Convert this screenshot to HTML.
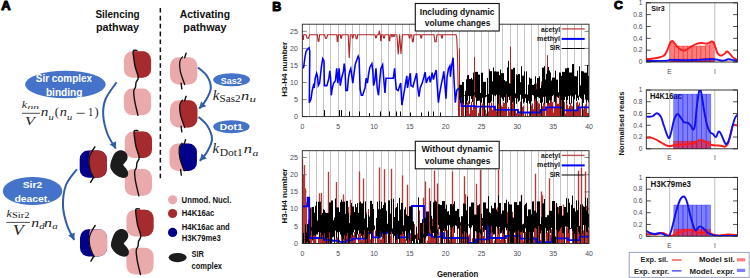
<!DOCTYPE html><html><head><meta charset="utf-8"><style>html,body{margin:0;padding:0;background:#fff;width:750px;height:278px;overflow:hidden}svg{display:block}</style></head><body><svg xmlns="http://www.w3.org/2000/svg" width="750" height="278" viewBox="0 0 750 278"><text x="1.3" y="10.0" font-size="12.2" fill="#000" text-anchor="start" font-weight="bold" font-family='"Liberation Sans", sans-serif' textLength="9.4" lengthAdjust="spacingAndGlyphs" stroke="#000" stroke-width="1" stroke-linejoin="round">A</text>
<text x="117.5" y="18.3" font-size="11.3" fill="#111" text-anchor="middle" font-weight="bold" font-family='"Liberation Sans", sans-serif' textLength="44.2" lengthAdjust="spacingAndGlyphs" >Silencing</text>
<text x="117.5" y="31.4" font-size="11.3" fill="#111" text-anchor="middle" font-weight="bold" font-family='"Liberation Sans", sans-serif' textLength="43.2" lengthAdjust="spacingAndGlyphs" >pathway</text>
<text x="204.9" y="18.3" font-size="11.3" fill="#111" text-anchor="middle" font-weight="bold" font-family='"Liberation Sans", sans-serif' textLength="50.3" lengthAdjust="spacingAndGlyphs" >Activating</text>
<text x="204.95" y="31.4" font-size="11.3" fill="#111" text-anchor="middle" font-weight="bold" font-family='"Liberation Sans", sans-serif' textLength="43.2" lengthAdjust="spacingAndGlyphs" >pathway</text>
<line x1="160.35" y1="7.9" x2="160.35" y2="178.2" stroke="#111" stroke-width="1.5" stroke-dasharray="4.6,3.3"/>
<clipPath id="nc1"><rect x="123.9" y="51.2" width="27.2" height="26.6" rx="8.5" ry="8.5"/></clipPath>
<rect x="123.9" y="51.2" width="27.2" height="26.6" rx="8.5" ry="8.5" fill="#eaaaac"/>
<path d="M133.20,50.70 C133.30,51.98 133.47,55.68 133.80,58.40 C134.13,61.12 134.45,63.68 135.20,67.00 C135.95,70.32 137.78,76.42 138.30,78.30 L138.3,80.80000000000001 L154.1,80.80000000000001 L154.1,48.2 L133.20000000000002,48.2 Z" fill="#a62b2e" clip-path="url(#nc1)"/>
<clipPath id="nc2"><rect x="123.9" y="88.6" width="27.2" height="26.6" rx="8.5" ry="8.5"/></clipPath>
<rect x="123.9" y="88.6" width="27.2" height="26.6" rx="8.5" ry="8.5" fill="#eaaaac"/>
<path d="M137.00,50.40 C136.38,50.48 133.83,49.57 133.30,50.90 C132.77,52.23 133.48,55.72 133.80,58.40 C134.12,61.08 134.45,63.85 135.20,67.00 C135.95,70.15 138.15,74.73 138.30,77.30 C138.45,79.87 136.57,80.75 136.10,82.40 C135.63,84.05 135.87,85.90 135.50,87.20 C135.13,88.50 134.17,88.87 133.90,90.20 C133.63,91.53 133.70,93.03 133.90,95.20 C134.10,97.37 134.42,99.83 135.10,103.20 C135.78,106.57 137.52,113.37 138.00,115.40" fill="none" stroke="#111" stroke-width="1.4" stroke-linecap="round"/>
<clipPath id="nc3"><rect x="124.8" y="131.4" width="27.2" height="26.6" rx="8.5" ry="8.5"/></clipPath>
<rect x="124.8" y="131.4" width="27.2" height="26.6" rx="8.5" ry="8.5" fill="#eaaaac"/>
<path d="M134.10,130.90 C134.20,132.18 134.37,135.88 134.70,138.60 C135.03,141.32 135.35,143.88 136.10,147.20 C136.85,150.52 138.68,156.62 139.20,158.50 L139.2,161.0 L155.0,161.0 L155.0,128.4 L134.1,128.4 Z" fill="#a62b2e" clip-path="url(#nc3)"/>
<clipPath id="nc4"><rect x="124.8" y="169.10000000000002" width="27.2" height="26.6" rx="8.5" ry="8.5"/></clipPath>
<rect x="124.8" y="169.10000000000002" width="27.2" height="26.6" rx="8.5" ry="8.5" fill="#eaaaac"/>
<path d="M137.90,130.60 C137.28,130.68 134.73,129.77 134.20,131.10 C133.67,132.43 134.38,135.92 134.70,138.60 C135.02,141.28 135.35,144.05 136.10,147.20 C136.85,150.35 139.05,154.91 139.20,157.50 C139.35,160.09 137.47,161.05 137.00,162.75 C136.53,164.45 136.77,166.38 136.40,167.70 C136.03,169.03 135.07,169.37 134.80,170.70 C134.53,172.03 134.60,173.53 134.80,175.70 C135.00,177.87 135.32,180.33 136.00,183.70 C136.68,187.07 138.42,193.87 138.90,195.90" fill="none" stroke="#111" stroke-width="1.4" stroke-linecap="round"/>
<clipPath id="nc5"><rect x="126.4" y="209.8" width="27.2" height="26.6" rx="8.5" ry="8.5"/></clipPath>
<rect x="126.4" y="209.8" width="27.2" height="26.6" rx="8.5" ry="8.5" fill="#eaaaac"/>
<path d="M135.70,209.30 C135.80,210.58 135.97,214.28 136.30,217.00 C136.63,219.72 136.95,222.28 137.70,225.60 C138.45,228.92 140.28,235.02 140.80,236.90 L140.8,239.4 L156.6,239.4 L156.6,206.8 L135.70000000000002,206.8 Z" fill="#a62b2e" clip-path="url(#nc5)"/>
<clipPath id="nc6"><rect x="126.4" y="247.8" width="27.2" height="26.6" rx="8.5" ry="8.5"/></clipPath>
<rect x="126.4" y="247.8" width="27.2" height="26.6" rx="8.5" ry="8.5" fill="#eaaaac"/>
<path d="M139.50,209.00 C138.88,209.08 136.33,208.17 135.80,209.50 C135.27,210.83 135.98,214.32 136.30,217.00 C136.62,219.68 136.95,222.45 137.70,225.60 C138.45,228.75 140.65,233.28 140.80,235.90 C140.95,238.52 139.07,239.55 138.60,241.30 C138.13,243.05 138.37,245.05 138.00,246.40 C137.63,247.75 136.67,248.07 136.40,249.40 C136.13,250.73 136.20,252.23 136.40,254.40 C136.60,256.57 136.92,259.03 137.60,262.40 C138.28,265.77 140.02,272.57 140.50,274.60" fill="none" stroke="#111" stroke-width="1.4" stroke-linecap="round"/>
<clipPath id="nc7"><rect x="79.7" y="150.6" width="27.1" height="27.2" rx="8.5" ry="8.5"/></clipPath>
<rect x="79.7" y="150.6" width="27.1" height="27.2" rx="8.5" ry="8.5" fill="#00008b"/>
<path d="M90.00,150.10 C89.78,151.35 88.88,155.02 88.70,157.60 C88.52,160.18 88.52,163.10 88.90,165.60 C89.28,168.10 90.12,170.47 91.00,172.60 C91.88,174.73 93.67,177.43 94.20,178.40 L94.2,180.79999999999998 L109.80000000000001,180.79999999999998 L109.80000000000001,147.6 L90.0,147.6 Z" fill="#a62b2e" clip-path="url(#nc7)"/>
<path d="M94.90,146.80 C94.43,147.53 92.57,150.47 92.10,151.20" fill="none" stroke="#111" stroke-width="1.4" stroke-linecap="round"/>
<path d="M92.30,150.80 C91.80,151.93 89.80,155.13 89.30,157.60 C88.80,160.07 88.98,163.10 89.30,165.60 C89.62,168.10 90.42,170.53 91.20,172.60 C91.98,174.67 93.53,177.10 94.00,178.00" fill="none" stroke="#111" stroke-width="1.2" stroke-linecap="round"/>
<path d="M93.50,177.40 C93.02,178.23 91.08,181.57 90.60,182.40" fill="none" stroke="#111" stroke-width="1.4" stroke-linecap="round"/>
<clipPath id="nc8"><rect x="80.0" y="229.3" width="27.1" height="27.2" rx="8.5" ry="8.5"/></clipPath>
<rect x="80.0" y="229.3" width="27.1" height="27.2" rx="8.5" ry="8.5" fill="#00008b"/>
<path d="M90.30,228.80 C90.08,230.05 89.18,233.72 89.00,236.30 C88.82,238.88 88.82,241.80 89.20,244.30 C89.58,246.80 90.42,249.17 91.30,251.30 C92.18,253.43 93.97,256.13 94.50,257.10 L94.5,259.5 L110.1,259.5 L110.1,226.3 L90.3,226.3 Z" fill="#eaaaac" clip-path="url(#nc8)"/>
<path d="M95.20,225.50 C94.73,226.23 92.87,229.17 92.40,229.90" fill="none" stroke="#111" stroke-width="1.4" stroke-linecap="round"/>
<path d="M92.60,229.50 C92.10,230.63 90.10,233.83 89.60,236.30 C89.10,238.77 89.28,241.80 89.60,244.30 C89.92,246.80 90.72,249.23 91.50,251.30 C92.28,253.37 93.83,255.80 94.30,256.70" fill="none" stroke="#111" stroke-width="1.2" stroke-linecap="round"/>
<path d="M93.80,256.10 C93.32,256.93 91.38,260.27 90.90,261.10" fill="none" stroke="#111" stroke-width="1.4" stroke-linecap="round"/>
<path transform="translate(109.9,150.6) scale(1.04)" d="M12.6,13.6 C14.5,11 17.2,9.5 17,5.8 C16.8,2 13.5,-0.6 9.5,-0.3 C6.5,0 4.5,2.5 3.2,5 C1.8,8 0.3,12 0.3,15 C0.3,18 3.5,22 7,24.3 C9.5,26 12.5,26.6 14.6,26.2 C17.2,25.6 18,23 17.4,20.5 C16.6,17.5 14,16 12.6,13.6 Z" fill="#1c1c1c"/>
<path transform="translate(110.6,229.3) scale(1.04)" d="M12.6,13.6 C14.5,11 17.2,9.5 17,5.8 C16.8,2 13.5,-0.6 9.5,-0.3 C6.5,0 4.5,2.5 3.2,5 C1.8,8 0.3,12 0.3,15 C0.3,18 3.5,22 7,24.3 C9.5,26 12.5,26.6 14.6,26.2 C17.2,25.6 18,23 17.4,20.5 C16.6,17.5 14,16 12.6,13.6 Z" fill="#1c1c1c"/>
<clipPath id="nc9"><rect x="170.0" y="57.2" width="27.4" height="27.3" rx="8.5" ry="8.5"/></clipPath>
<rect x="170.0" y="57.2" width="27.4" height="27.3" rx="8.5" ry="8.5" fill="#eaaaac"/>
<path d="M186.10,53.20 C185.85,53.95 184.85,56.95 184.60,57.70" fill="none" stroke="#111" stroke-width="1.4" stroke-linecap="round"/>
<path d="M182.50,56.90 C182.05,57.67 180.15,59.05 179.80,61.50 C179.45,63.95 179.58,67.77 180.40,71.60 C181.22,75.43 183.98,82.35 184.70,84.50" fill="none" stroke="#111" stroke-width="1.3" stroke-linecap="round"/>
<path d="M181.10,83.20 C181.22,84.13 181.68,87.87 181.80,88.80" fill="none" stroke="#111" stroke-width="1.4" stroke-linecap="round"/>
<clipPath id="nc10"><rect x="170.0" y="100.3" width="27.4" height="27.3" rx="8.5" ry="8.5"/></clipPath>
<rect x="170.0" y="100.3" width="27.4" height="27.3" rx="8.5" ry="8.5" fill="#eaaaac"/>
<path d="M182.50,100.10 C182.12,100.85 180.58,102.17 180.20,104.60 C179.82,107.03 179.45,110.83 180.20,114.70 C180.95,118.57 183.95,125.62 184.70,127.80 L184.7,130.6 L200.4,130.6 L200.4,97.3 L182.5,97.3 Z" fill="#a62b2e" clip-path="url(#nc10)"/>
<path d="M186.10,96.30 C185.85,97.05 184.85,100.05 184.60,100.80" fill="none" stroke="#111" stroke-width="1.4" stroke-linecap="round"/>
<path d="M182.50,100.00 C182.05,100.77 180.15,102.15 179.80,104.60 C179.45,107.05 179.58,110.87 180.40,114.70 C181.22,118.53 183.98,125.45 184.70,127.60" fill="none" stroke="#111" stroke-width="1.3" stroke-linecap="round"/>
<path d="M181.10,126.30 C181.22,127.23 181.68,130.97 181.80,131.90" fill="none" stroke="#111" stroke-width="1.4" stroke-linecap="round"/>
<clipPath id="nc11"><rect x="169.5" y="143.6" width="27.4" height="27.3" rx="8.5" ry="8.5"/></clipPath>
<rect x="169.5" y="143.6" width="27.4" height="27.3" rx="8.5" ry="8.5" fill="#eaaaac"/>
<path d="M182.00,143.40 C181.62,144.15 180.08,145.47 179.70,147.90 C179.32,150.33 178.95,154.13 179.70,158.00 C180.45,161.87 183.45,168.92 184.20,171.10 L184.2,173.9 L199.9,173.9 L199.9,140.6 L182.0,140.6 Z" fill="#00008b" clip-path="url(#nc11)"/>
<path d="M185.60,139.60 C185.35,140.35 184.35,143.35 184.10,144.10" fill="none" stroke="#111" stroke-width="1.4" stroke-linecap="round"/>
<path d="M182.00,143.30 C181.55,144.07 179.65,145.45 179.30,147.90 C178.95,150.35 179.08,154.17 179.90,158.00 C180.72,161.83 183.48,168.75 184.20,170.90" fill="none" stroke="#111" stroke-width="1.3" stroke-linecap="round"/>
<path d="M180.60,169.60 C180.72,170.53 181.18,174.27 181.30,175.20" fill="none" stroke="#111" stroke-width="1.4" stroke-linecap="round"/>
<ellipse cx="65.4" cy="84.55" rx="40.3" ry="13.8" fill="#4573c9"/>
<text x="63.9" y="82.3" font-size="10.6" fill="#fff" text-anchor="middle" font-weight="bold" font-family='"Liberation Sans", sans-serif' textLength="56.2" lengthAdjust="spacingAndGlyphs" >Sir complex</text>
<text x="64.2" y="96.2" font-size="10.6" fill="#fff" text-anchor="middle" font-weight="bold" font-family='"Liberation Sans", sans-serif' textLength="36.6" lengthAdjust="spacingAndGlyphs" >binding</text>
<ellipse cx="32.55" cy="191" rx="29.75" ry="14.1" fill="#4573c9"/>
<text x="32.4" y="188.4" font-size="9.8" fill="#fff" text-anchor="middle" font-weight="bold" font-family='"Liberation Sans", sans-serif' textLength="19.5" lengthAdjust="spacingAndGlyphs" >Sir2</text>
<text x="32.3" y="201.6" font-size="9.8" fill="#fff" text-anchor="middle" font-weight="bold" font-family='"Liberation Sans", sans-serif' textLength="35.8" lengthAdjust="spacingAndGlyphs" >deacet.</text>
<ellipse cx="231.6" cy="79.75" rx="18.4" ry="6.6" fill="#4573c9"/>
<text x="231.25" y="83.5" font-size="9.2" fill="#fff" text-anchor="middle" font-weight="bold" font-family='"Liberation Sans", sans-serif' textLength="21" lengthAdjust="spacingAndGlyphs" >Sas2</text>
<ellipse cx="231.4" cy="126.7" rx="18.2" ry="6.5" fill="#4573c9"/>
<text x="231.25" y="130.4" font-size="9.2" fill="#fff" text-anchor="middle" font-weight="bold" font-family='"Liberation Sans", sans-serif' textLength="23.1" lengthAdjust="spacingAndGlyphs" >Dot1</text>
<path d="M116.60,82.20 C114.77,85.00 107.83,93.53 105.60,99.00 C103.37,104.47 102.88,109.17 103.20,115.00 C103.52,120.83 105.40,128.40 107.50,134.00 C109.60,139.60 114.42,146.17 115.80,148.60" fill="none" stroke="#2f5ea8" stroke-width="2"/>
<path d="M115.80,148.60 L109.67,144.40 L116.11,141.18 Z" fill="#2f5ea8"/>
<path d="M76.90,169.20 C75.08,171.83 68.32,178.88 66.00,185.00 C63.68,191.12 62.83,199.23 63.00,205.90 C63.17,212.57 65.13,219.32 67.00,225.00 C68.87,230.68 73.00,237.50 74.20,240.00" fill="none" stroke="#2f5ea8" stroke-width="2"/>
<path d="M74.20,240.00 L68.25,235.55 L74.82,232.60 Z" fill="#2f5ea8"/>
<path d="M197.90,67.50 C199.42,68.92 204.85,72.58 207.00,76.00 C209.15,79.42 210.97,84.00 210.80,88.00 C210.63,92.00 207.93,96.57 206.00,100.00 C204.07,103.43 200.33,107.17 199.20,108.60" fill="none" stroke="#2f5ea8" stroke-width="2"/>
<path d="M199.20,108.60 L201.02,101.40 L206.27,106.32 Z" fill="#2f5ea8"/>
<path d="M198.50,116.90 C200.00,118.42 205.25,122.28 207.50,126.00 C209.75,129.72 212.08,134.87 212.00,139.20 C211.92,143.53 209.03,148.40 207.00,152.00 C204.97,155.60 201.00,159.33 199.80,160.80" fill="none" stroke="#2f5ea8" stroke-width="2"/>
<path d="M199.80,160.80 L201.62,153.60 L206.87,158.52 Z" fill="#2f5ea8"/>
<text x="21.8" y="107.6" font-size="11.3" fill="#222" text-anchor="start" font-style="italic" font-family='"Liberation Serif", serif' textLength="5.3" lengthAdjust="spacingAndGlyphs" >k</text>
<text x="27.4" y="108.8" font-size="6.6" fill="#222" text-anchor="start" font-style="italic" font-family='"Liberation Serif", serif' textLength="11.6" lengthAdjust="spacingAndGlyphs" >nn</text>
<line x1="22" y1="113.3" x2="39.9" y2="113.3" stroke="#222" stroke-width="0.8"/>
<text x="25.1" y="124.6" font-size="13.3" fill="#222" text-anchor="start" font-style="italic" font-family='"Liberation Serif", serif' textLength="9.8" lengthAdjust="spacingAndGlyphs" >V</text>
<text x="40.8" y="116.1" font-size="11.5" fill="#222" text-anchor="start" font-style="italic" font-family='"Liberation Serif", serif' textLength="7.6" lengthAdjust="spacingAndGlyphs" >n</text>
<text x="48.6" y="119.8" font-size="7.5" fill="#222" text-anchor="start" font-style="italic" font-family='"Liberation Serif", serif' textLength="5.2" lengthAdjust="spacingAndGlyphs" >u</text>
<text x="54.7" y="115.8" font-size="12.2" fill="#222" text-anchor="start" font-family='"Liberation Serif", serif' textLength="4.2" lengthAdjust="spacingAndGlyphs" >(</text>
<text x="59.8" y="116.1" font-size="11.5" fill="#222" text-anchor="start" font-style="italic" font-family='"Liberation Serif", serif' textLength="7.2" lengthAdjust="spacingAndGlyphs" >n</text>
<text x="67.0" y="119.8" font-size="7.5" fill="#222" text-anchor="start" font-style="italic" font-family='"Liberation Serif", serif' textLength="5.2" lengthAdjust="spacingAndGlyphs" >u</text>
<line x1="76.7" y1="113.3" x2="84.7" y2="113.3" stroke="#222" stroke-width="0.8"/>
<text x="88" y="116.1" font-size="11.5" fill="#222" text-anchor="start" font-family='"Liberation Serif", serif' textLength="5.3" lengthAdjust="spacingAndGlyphs" >1</text>
<text x="94.4" y="115.8" font-size="12.2" fill="#222" text-anchor="start" font-family='"Liberation Serif", serif' textLength="4.2" lengthAdjust="spacingAndGlyphs" >)</text>
<text x="6.4" y="217.0" font-size="11.3" fill="#222" text-anchor="start" font-style="italic" font-family='"Liberation Serif", serif' textLength="5.4" lengthAdjust="spacingAndGlyphs" >k</text>
<text x="11.9" y="217.8" font-size="7.2" fill="#222" text-anchor="start" font-family='"Liberation Serif", serif' textLength="17.6" lengthAdjust="spacingAndGlyphs" >Sir2</text>
<line x1="6.3" y1="222.4" x2="29.9" y2="222.4" stroke="#222" stroke-width="0.8"/>
<text x="12.8" y="234.7" font-size="14.2" fill="#222" text-anchor="start" font-style="italic" font-family='"Liberation Serif", serif' textLength="11" lengthAdjust="spacingAndGlyphs" >V</text>
<text x="31.2" y="226.7" font-size="12.6" fill="#222" text-anchor="start" font-style="italic" font-family='"Liberation Serif", serif' textLength="7.9" lengthAdjust="spacingAndGlyphs" >n</text>
<text x="39.2" y="229.2" font-size="7.5" fill="#222" text-anchor="start" font-style="italic" font-family='"Liberation Serif", serif' textLength="5.3" lengthAdjust="spacingAndGlyphs" >d</text>
<text x="44.1" y="226.7" font-size="12.6" fill="#222" text-anchor="start" font-style="italic" font-family='"Liberation Serif", serif' textLength="8" lengthAdjust="spacingAndGlyphs" >n</text>
<text x="52.2" y="229.0" font-size="7.5" fill="#222" text-anchor="start" font-style="italic" font-family='"Liberation Serif", serif' textLength="5.4" lengthAdjust="spacingAndGlyphs" >a</text>
<text x="212.8" y="99.5" font-size="14.5" fill="#222" text-anchor="start" font-style="italic" font-family='"Liberation Serif", serif' textLength="6.6" lengthAdjust="spacingAndGlyphs" >k</text>
<text x="219.6" y="102.2" font-size="10.5" fill="#222" text-anchor="start" font-family='"Liberation Serif", serif' textLength="21" lengthAdjust="spacingAndGlyphs" >Sas2</text>
<text x="241.1" y="99.5" font-size="13" fill="#222" text-anchor="start" font-style="italic" font-family='"Liberation Serif", serif' textLength="8.2" lengthAdjust="spacingAndGlyphs" >n</text>
<text x="249.5" y="102.2" font-size="9" fill="#222" text-anchor="start" font-style="italic" font-family='"Liberation Serif", serif' textLength="6.5" lengthAdjust="spacingAndGlyphs" >u</text>
<text x="212.6" y="153" font-size="14.5" fill="#222" text-anchor="start" font-style="italic" font-family='"Liberation Serif", serif' textLength="6.6" lengthAdjust="spacingAndGlyphs" >k</text>
<text x="219.8" y="155.8" font-size="10.5" fill="#222" text-anchor="start" font-family='"Liberation Serif", serif' textLength="23" lengthAdjust="spacingAndGlyphs" >Dot1</text>
<text x="243.8" y="153" font-size="13" fill="#222" text-anchor="start" font-style="italic" font-family='"Liberation Serif", serif' textLength="8.3" lengthAdjust="spacingAndGlyphs" >n</text>
<text x="252.6" y="155.6" font-size="9" fill="#222" text-anchor="start" font-style="italic" font-family='"Liberation Serif", serif' textLength="5.8" lengthAdjust="spacingAndGlyphs" >a</text>
<circle cx="172.6" cy="199.8" r="4.6" fill="#eaaaac"/>
<circle cx="172.6" cy="213.5" r="4.6" fill="#a62b2e"/>
<circle cx="172.6" cy="232.4" r="4.6" fill="#00008b"/>
<ellipse cx="177.6" cy="257.6" rx="9" ry="4.6" fill="#1c1c1c"/>
<text x="181.6" y="203.0" font-size="8.3" fill="#111" text-anchor="start" font-weight="bold" font-family='"Liberation Sans", sans-serif' textLength="49.8" lengthAdjust="spacingAndGlyphs" >Unmod. Nucl.</text>
<text x="181.8" y="216.4" font-size="8.3" fill="#111" text-anchor="start" font-weight="bold" font-family='"Liberation Sans", sans-serif' textLength="32.5" lengthAdjust="spacingAndGlyphs" >H4K16ac</text>
<text x="181.8" y="230.4" font-size="8.3" fill="#111" text-anchor="start" font-weight="bold" font-family='"Liberation Sans", sans-serif' textLength="48" lengthAdjust="spacingAndGlyphs" >H4K16ac and</text>
<text x="181.8" y="240.9" font-size="8.3" fill="#111" text-anchor="start" font-weight="bold" font-family='"Liberation Sans", sans-serif' textLength="39" lengthAdjust="spacingAndGlyphs" >H3K79me3</text>
<text x="191.5" y="257.2" font-size="8.3" fill="#111" text-anchor="start" font-weight="bold" font-family='"Liberation Sans", sans-serif' textLength="12.5" lengthAdjust="spacingAndGlyphs" >SIR</text>
<text x="191.5" y="268.7" font-size="8.3" fill="#111" text-anchor="start" font-weight="bold" font-family='"Liberation Sans", sans-serif' textLength="30.5" lengthAdjust="spacingAndGlyphs" >complex</text>
<text x="272.3" y="11.1" font-size="12" fill="#000" text-anchor="start" font-weight="bold" font-family='"Liberation Sans", sans-serif' textLength="9.0" lengthAdjust="spacingAndGlyphs" stroke="#000" stroke-width="1" stroke-linejoin="round">B</text>
<clipPath id="bclip0"><rect x="302.3" y="24.2" width="286.7" height="92.39999999999999"/></clipPath>
<line x1="309.50" y1="24.2" x2="309.50" y2="116.6" stroke="#c4c4c4" stroke-width="1"/>
<line x1="316.50" y1="24.2" x2="316.50" y2="116.6" stroke="#c4c4c4" stroke-width="1"/>
<line x1="323.50" y1="24.2" x2="323.50" y2="116.6" stroke="#c4c4c4" stroke-width="1"/>
<line x1="330.50" y1="24.2" x2="330.50" y2="116.6" stroke="#c4c4c4" stroke-width="1"/>
<line x1="338.50" y1="24.2" x2="338.50" y2="116.6" stroke="#c4c4c4" stroke-width="1"/>
<line x1="345.50" y1="24.2" x2="345.50" y2="116.6" stroke="#c4c4c4" stroke-width="1"/>
<line x1="352.50" y1="24.2" x2="352.50" y2="116.6" stroke="#c4c4c4" stroke-width="1"/>
<line x1="359.50" y1="24.2" x2="359.50" y2="116.6" stroke="#c4c4c4" stroke-width="1"/>
<line x1="366.50" y1="24.2" x2="366.50" y2="116.6" stroke="#c4c4c4" stroke-width="1"/>
<line x1="373.50" y1="24.2" x2="373.50" y2="116.6" stroke="#c4c4c4" stroke-width="1"/>
<line x1="381.50" y1="24.2" x2="381.50" y2="116.6" stroke="#c4c4c4" stroke-width="1"/>
<line x1="388.50" y1="24.2" x2="388.50" y2="116.6" stroke="#c4c4c4" stroke-width="1"/>
<line x1="395.50" y1="24.2" x2="395.50" y2="116.6" stroke="#c4c4c4" stroke-width="1"/>
<line x1="402.50" y1="24.2" x2="402.50" y2="116.6" stroke="#c4c4c4" stroke-width="1"/>
<line x1="409.50" y1="24.2" x2="409.50" y2="116.6" stroke="#c4c4c4" stroke-width="1"/>
<line x1="416.50" y1="24.2" x2="416.50" y2="116.6" stroke="#c4c4c4" stroke-width="1"/>
<line x1="424.50" y1="24.2" x2="424.50" y2="116.6" stroke="#c4c4c4" stroke-width="1"/>
<line x1="431.50" y1="24.2" x2="431.50" y2="116.6" stroke="#c4c4c4" stroke-width="1"/>
<line x1="438.50" y1="24.2" x2="438.50" y2="116.6" stroke="#c4c4c4" stroke-width="1"/>
<line x1="445.50" y1="24.2" x2="445.50" y2="116.6" stroke="#c4c4c4" stroke-width="1"/>
<line x1="452.50" y1="24.2" x2="452.50" y2="116.6" stroke="#c4c4c4" stroke-width="1"/>
<line x1="459.50" y1="24.2" x2="459.50" y2="116.6" stroke="#c4c4c4" stroke-width="1"/>
<line x1="467.50" y1="24.2" x2="467.50" y2="116.6" stroke="#c4c4c4" stroke-width="1"/>
<line x1="474.50" y1="24.2" x2="474.50" y2="116.6" stroke="#c4c4c4" stroke-width="1"/>
<line x1="481.50" y1="24.2" x2="481.50" y2="116.6" stroke="#c4c4c4" stroke-width="1"/>
<line x1="488.50" y1="24.2" x2="488.50" y2="116.6" stroke="#c4c4c4" stroke-width="1"/>
<line x1="495.50" y1="24.2" x2="495.50" y2="116.6" stroke="#c4c4c4" stroke-width="1"/>
<line x1="502.50" y1="24.2" x2="502.50" y2="116.6" stroke="#c4c4c4" stroke-width="1"/>
<line x1="510.50" y1="24.2" x2="510.50" y2="116.6" stroke="#c4c4c4" stroke-width="1"/>
<line x1="517.50" y1="24.2" x2="517.50" y2="116.6" stroke="#c4c4c4" stroke-width="1"/>
<line x1="524.50" y1="24.2" x2="524.50" y2="116.6" stroke="#c4c4c4" stroke-width="1"/>
<line x1="531.50" y1="24.2" x2="531.50" y2="116.6" stroke="#c4c4c4" stroke-width="1"/>
<line x1="538.50" y1="24.2" x2="538.50" y2="116.6" stroke="#c4c4c4" stroke-width="1"/>
<line x1="545.50" y1="24.2" x2="545.50" y2="116.6" stroke="#c4c4c4" stroke-width="1"/>
<line x1="553.50" y1="24.2" x2="553.50" y2="116.6" stroke="#c4c4c4" stroke-width="1"/>
<line x1="560.50" y1="24.2" x2="560.50" y2="116.6" stroke="#c4c4c4" stroke-width="1"/>
<line x1="567.50" y1="24.2" x2="567.50" y2="116.6" stroke="#c4c4c4" stroke-width="1"/>
<line x1="574.50" y1="24.2" x2="574.50" y2="116.6" stroke="#c4c4c4" stroke-width="1"/>
<line x1="581.50" y1="24.2" x2="581.50" y2="116.6" stroke="#c4c4c4" stroke-width="1"/>
<line x1="302.3" y1="116.60" x2="306.8" y2="116.60" stroke="#555" stroke-width="0.7"/>
<line x1="584.5" y1="116.60" x2="589.0" y2="116.60" stroke="#555" stroke-width="0.7"/>
<text x="298" y="118.8" font-size="7.1" fill="#4a4a55" text-anchor="end" font-family='"Liberation Sans", sans-serif' >0</text>
<line x1="302.3" y1="99.55" x2="306.8" y2="99.55" stroke="#555" stroke-width="0.7"/>
<line x1="584.5" y1="99.55" x2="589.0" y2="99.55" stroke="#555" stroke-width="0.7"/>
<text x="298" y="101.75" font-size="7.1" fill="#4a4a55" text-anchor="end" font-family='"Liberation Sans", sans-serif' >5</text>
<line x1="302.3" y1="82.50" x2="306.8" y2="82.50" stroke="#555" stroke-width="0.7"/>
<line x1="584.5" y1="82.50" x2="589.0" y2="82.50" stroke="#555" stroke-width="0.7"/>
<text x="298" y="84.7" font-size="7.1" fill="#4a4a55" text-anchor="end" font-family='"Liberation Sans", sans-serif' >10</text>
<line x1="302.3" y1="65.45" x2="306.8" y2="65.45" stroke="#555" stroke-width="0.7"/>
<line x1="584.5" y1="65.45" x2="589.0" y2="65.45" stroke="#555" stroke-width="0.7"/>
<text x="298" y="67.64999999999999" font-size="7.1" fill="#4a4a55" text-anchor="end" font-family='"Liberation Sans", sans-serif' >15</text>
<line x1="302.3" y1="48.40" x2="306.8" y2="48.40" stroke="#555" stroke-width="0.7"/>
<line x1="584.5" y1="48.40" x2="589.0" y2="48.40" stroke="#555" stroke-width="0.7"/>
<text x="298" y="50.599999999999994" font-size="7.1" fill="#4a4a55" text-anchor="end" font-family='"Liberation Sans", sans-serif' >20</text>
<line x1="302.3" y1="31.35" x2="306.8" y2="31.35" stroke="#555" stroke-width="0.7"/>
<line x1="584.5" y1="31.35" x2="589.0" y2="31.35" stroke="#555" stroke-width="0.7"/>
<text x="298" y="33.55" font-size="7.1" fill="#4a4a55" text-anchor="end" font-family='"Liberation Sans", sans-serif' >25</text>
<text x="302.3" y="129.2" font-size="6.9" fill="#4a4a55" text-anchor="middle" font-family='"Liberation Sans", sans-serif' >0</text>
<text x="338.1375" y="129.2" font-size="6.9" fill="#4a4a55" text-anchor="middle" font-family='"Liberation Sans", sans-serif' >5</text>
<text x="373.975" y="129.2" font-size="6.9" fill="#4a4a55" text-anchor="middle" font-family='"Liberation Sans", sans-serif' >10</text>
<text x="409.8125" y="129.2" font-size="6.9" fill="#4a4a55" text-anchor="middle" font-family='"Liberation Sans", sans-serif' >15</text>
<text x="445.65" y="129.2" font-size="6.9" fill="#4a4a55" text-anchor="middle" font-family='"Liberation Sans", sans-serif' >20</text>
<text x="481.4875" y="129.2" font-size="6.9" fill="#4a4a55" text-anchor="middle" font-family='"Liberation Sans", sans-serif' >25</text>
<text x="517.325" y="129.2" font-size="6.9" fill="#4a4a55" text-anchor="middle" font-family='"Liberation Sans", sans-serif' >30</text>
<text x="553.1625" y="129.2" font-size="6.9" fill="#4a4a55" text-anchor="middle" font-family='"Liberation Sans", sans-serif' >35</text>
<text x="589.0" y="129.2" font-size="6.9" fill="#4a4a55" text-anchor="middle" font-family='"Liberation Sans", sans-serif' >40</text>
<g clip-path="url(#bclip0)">
<polyline points="302.30,38.50 302.35,34.80 302.79,39.40 303.37,39.40 303.80,34.80 306.00,34.80 307.05,38.20 308.45,38.20 309.50,34.80 317.40,34.80 318.06,41.10 318.94,41.10 319.60,34.80 324.60,34.80 325.47,38.20 326.63,38.20 327.50,34.80 336.80,34.80 337.25,41.50 337.85,41.50 338.30,34.80 340.40,34.80 340.85,38.20 341.45,38.20 341.90,34.80 348.20,34.80 349.25,58.10 350.30,34.80 352.00,34.80 352.42,38.00 352.98,38.00 353.40,34.80 355.60,34.80 356.23,38.70 357.07,38.70 357.70,34.80 375.00,34.80 375.60,37.70 376.40,37.70 377.00,34.80 378.60,34.80 379.30,30.80 380.00,34.80 380.30,34.80 380.69,40.80 381.21,40.80 381.60,34.80 383.00,34.80 383.60,38.00 384.40,38.00 385.00,34.80 388.70,34.80 389.15,40.80 389.75,40.80 390.20,34.80 391.50,34.80 391.80,36.80 392.20,36.80 392.50,34.80 393.50,34.80 393.80,36.50 394.20,36.50 394.50,34.80 396.90,34.80 398.25,54.50 399.60,34.80 399.65,34.80 401.02,54.00 402.40,34.80 408.80,34.80 409.25,38.00 409.85,38.00 410.30,34.80 411.70,34.80 412.36,41.60 413.24,41.60 413.90,34.80 420.40,34.80 420.88,38.00 421.52,38.00 422.00,34.80 434.00,34.80 434.90,41.60 436.10,41.60 437.00,34.80 441.20,34.80 441.65,38.00 442.25,38.00 442.70,34.80 456.00,34.80 456.80,38.00 457.50,55.00 458.20,90.00 458.60,116.50" fill="none" stroke="#b22222" stroke-width="1.1" stroke-linejoin="miter" />
<path d="M459.5,116.60V103.46M461.5,116.60V103.09M461.5,116.60V102.11M462.5,116.60V113.81M462.5,116.60V87.33M463.5,116.60V107.23M463.5,116.60V89.52M465.5,116.60V110.38M465.5,116.60V95.02M466.5,116.60V105.03M467.5,116.60V102.67M468.5,116.60V101.05M469.5,116.60V113.67M470.5,116.60V105.74M471.5,116.60V107.62M471.5,116.60V101.83M472.5,116.60V110.07M473.5,116.60V101.98M474.5,116.60V109.58M475.5,116.60V105.63M476.5,116.60V102.21M478.5,116.60V112.83M479.5,116.60V108.16M480.5,116.60V103.77M482.5,116.60V103.43M483.5,116.60V101.43M485.5,116.60V109.72M486.5,116.60V113.55M487.5,116.60V105.71M488.5,116.60V111.55M489.5,116.60V110.97M490.5,116.60V106.74M491.5,116.60V102.65M492.5,116.60V109.72M493.5,116.60V102.63M494.5,116.60V108.17M495.5,116.60V107.21M496.5,116.60V111.27M497.5,116.60V108.68M498.5,116.60V101.47M499.5,116.60V112.46M500.5,116.60V110.70M501.5,116.60V105.67M502.5,116.60V106.84M503.5,116.60V102.33M504.5,116.60V103.09M505.5,116.60V103.23M506.5,116.60V107.63M506.5,116.60V84.77M508.5,116.60V107.19M509.5,116.60V111.34M510.5,116.60V106.10M511.5,116.60V101.77M511.5,116.60V95.09M512.5,116.60V103.54M513.5,116.60V111.51M513.5,116.60V90.67M514.5,116.60V112.38M514.5,116.60V97.30M515.5,116.60V109.46M516.5,116.60V113.29M517.5,116.60V110.19M518.5,116.60V113.69M519.5,116.60V113.22M520.5,116.60V101.73M521.5,116.60V111.23M521.5,116.60V90.35M522.5,116.60V106.99M523.5,116.60V105.77M525.5,116.60V113.38M527.5,116.60V103.91M529.5,116.60V112.80M531.5,116.60V105.36M532.5,116.60V103.47M533.5,116.60V109.14M534.5,116.60V111.57M534.5,116.60V92.11M535.5,116.60V103.45M535.5,116.60V89.91M536.5,116.60V105.40M536.5,116.60V83.48M537.5,116.60V101.33M538.5,116.60V103.17M539.5,116.60V103.48M540.5,116.60V110.09M542.5,116.60V106.16M543.5,116.60V103.28M544.5,116.60V111.05M544.5,116.60V83.91M546.5,116.60V110.51M547.5,116.60V103.23M548.5,116.60V101.49M549.5,116.60V103.16M550.5,116.60V100.95M551.5,116.60V105.40M551.5,116.60V93.96M552.5,116.60V102.19M553.5,116.60V112.75M554.5,116.60V108.08M555.5,116.60V106.19M555.5,116.60V97.55M556.5,116.60V111.21M556.5,116.60V86.46M557.5,116.60V103.65M558.5,116.60V103.65M559.5,116.60V107.39M559.5,116.60V85.93M560.5,116.60V112.11M561.5,116.60V81.38M563.5,116.60V104.05M564.5,116.60V101.82M565.5,116.60V113.44M566.5,116.60V84.25M567.5,116.60V104.94M568.5,116.60V108.25M569.5,116.60V105.89M570.5,116.60V102.93M571.5,116.60V105.36M572.5,116.60V106.53M573.5,116.60V97.14M574.5,116.60V110.88M575.5,116.60V110.04M576.5,116.60V102.47M577.5,116.60V101.41M578.5,116.60V104.66M579.5,116.60V102.41M580.5,116.60V107.03M582.5,116.60V102.24M583.5,116.60V109.21M584.5,116.60V106.18M585.5,116.60V104.52M586.5,116.60V92.26M587.5,116.60V112.93M588.5,116.60V113.32" stroke="#b22222" stroke-width="1" fill="none"/>
<path d="M473.5,116.60V87.88M493.5,116.60V79.78M499.5,116.60V88.15M541.5,116.60V81.38M459.5,116.60V48.40M474.5,116.60V56.92M510.5,116.60V46.69M547.5,116.60V55.22M489.5,116.60V68.86" stroke="#b22222" stroke-width="1" fill="none"/>
<polyline points="302.40,68.40 303.70,67.20 304.90,57.40 306.10,51.30 307.30,49.40 309.00,47.70 309.80,51.30 309.30,102.70 311.00,99.00 312.20,90.50 313.40,85.60 314.20,88.00 315.20,78.20 316.60,73.30 317.60,77.00 318.30,85.60 319.60,83.10 321.50,66.00 322.70,58.70 324.00,61.10 324.40,85.60 326.90,85.60 328.90,78.20 329.80,70.90 330.60,78.20 331.30,95.30 332.30,88.00 333.70,83.10 335.50,80.70 336.70,68.40 337.90,83.10 339.10,68.40 340.30,85.60 341.60,78.20 343.50,70.90 344.20,63.60 345.00,69.70 345.90,90.50 347.40,90.50 348.40,78.20 349.80,70.90 350.80,68.40 351.80,75.80 352.80,83.10 354.00,73.30 355.20,64.80 356.40,61.10 358.20,56.20 359.10,58.70 360.10,89.20 361.30,95.30 362.60,95.30 365.00,88.00 366.20,78.20 367.40,83.10 368.70,73.30 369.90,67.20 371.90,63.60 372.80,70.90 373.60,85.60 374.80,80.70 376.00,68.40 377.20,88.00 378.50,95.30 379.70,80.70 380.90,68.40 382.60,64.80 384.10,83.10 385.00,92.90 386.00,78.20 393.30,78.20 394.60,68.40 395.30,78.20 396.30,89.20 398.20,90.50 399.40,86.80 400.70,83.10 401.90,105.10 403.60,95.30 405.60,83.10 406.80,75.80 407.50,88.00 409.20,78.20 410.40,73.30 410.90,85.60 412.90,86.80 414.90,79.50 416.60,73.30 417.80,88.00 419.00,96.60 420.20,88.00 422.20,83.10 423.90,77.00 425.10,72.10 426.30,83.10 428.00,78.20 429.40,76.80 430.20,82.30 431.30,78.20 432.10,72.70 433.50,79.50 434.80,74.00 436.20,70.00 437.00,82.30 438.40,102.70 439.70,93.20 441.70,82.30 443.00,76.80 443.80,71.30 444.90,85.00 446.00,98.60 447.10,76.80 448.50,68.60 449.90,65.90 450.40,76.80 451.20,68.60 452.60,60.40 453.10,57.70 454.00,79.50 455.30,102.70 456.70,90.40 458.00,89.00 460.80,89.00" fill="none" stroke="#0000ff" stroke-width="1.55" stroke-linejoin="miter" />
<line x1="324.5" y1="116.6" x2="324.5" y2="110.12" stroke="#000" stroke-width="1"/>
<line x1="339.5" y1="116.6" x2="339.5" y2="110.12" stroke="#000" stroke-width="1"/>
<line x1="341.5" y1="116.6" x2="341.5" y2="110.12" stroke="#000" stroke-width="1"/>
<line x1="349.5" y1="116.6" x2="349.5" y2="111.48" stroke="#000" stroke-width="1"/>
<line x1="359.5" y1="116.6" x2="359.5" y2="111.48" stroke="#000" stroke-width="1"/>
<line x1="369.5" y1="116.6" x2="369.5" y2="113.19" stroke="#000" stroke-width="1"/>
<line x1="380.5" y1="116.6" x2="380.5" y2="111.48" stroke="#000" stroke-width="1"/>
<line x1="389.5" y1="116.6" x2="389.5" y2="111.48" stroke="#000" stroke-width="1"/>
<line x1="396.5" y1="116.6" x2="396.5" y2="111.48" stroke="#000" stroke-width="1"/>
<line x1="400.5" y1="116.6" x2="400.5" y2="111.48" stroke="#000" stroke-width="1"/>
<line x1="410.5" y1="116.6" x2="410.5" y2="112.51" stroke="#000" stroke-width="1"/>
<line x1="421.5" y1="116.6" x2="421.5" y2="112.51" stroke="#000" stroke-width="1"/>
<line x1="428.5" y1="116.6" x2="428.5" y2="111.48" stroke="#000" stroke-width="1"/>
<line x1="433.5" y1="116.6" x2="433.5" y2="111.48" stroke="#000" stroke-width="1"/>
<line x1="440.5" y1="116.6" x2="440.5" y2="112.51" stroke="#000" stroke-width="1"/>
<polyline points="458.00,88.64 461.50,88.64 461.50,88.64 461.50,106.03 474.50,106.03 474.50,106.03 474.50,106.71 495.00,106.71 495.00,106.71 495.00,109.78 518.00,109.78 518.00,109.78 518.00,112.51 540.50,112.51 540.50,112.51 540.50,109.78 546.00,109.78 546.00,109.78 546.00,107.39 563.00,107.39 563.00,107.39 563.00,110.46 578.00,110.46 578.00,110.46 578.00,107.39 590.00,107.39" fill="none" stroke="#0000ff" stroke-width="1.8" stroke-linejoin="miter" />
<path d="M459.5,100.04V84.71M460.5,103.21V84.71M461.5,97.11V84.71M462.5,102.67V82.10M463.5,103.81V82.10M464.5,96.00V95.35M465.5,116.60V90.82M466.5,104.55V79.29M467.5,100.63V75.26M468.5,95.92V75.04M469.5,103.91V79.03M470.5,96.15V79.03M471.5,99.00V77.81M472.5,102.04V79.55M473.5,95.94V72.70M474.5,94.71V92.81M475.5,97.49V71.85M476.5,103.90V71.85M477.5,101.07V71.85M478.5,100.75V74.62M479.5,100.69V74.62M480.5,116.60V92.90M481.5,102.59V72.74M482.5,97.85V72.74M483.5,103.29V81.82M484.5,116.60V81.82M485.5,97.34V81.82M486.5,96.57V95.04M487.5,116.60V77.86M488.5,102.84V94.00M489.5,103.04V71.16M490.5,102.65V71.16M491.5,101.33V71.16M492.5,94.67V81.33M493.5,101.85V67.51M494.5,95.45V71.35M495.5,96.16V71.30M496.5,94.76V71.62M497.5,116.60V71.62M498.5,103.99V71.62M499.5,95.09V75.13M500.5,116.60V69.55M501.5,97.49V73.20M502.5,99.20V73.20M503.5,101.11V73.20M504.5,97.23V80.07M505.5,103.68V81.29M506.5,94.45V81.29M507.5,102.58V67.47M508.5,96.84V60.86M509.5,100.02V83.29M510.5,95.86V83.25M511.5,116.60V69.25M512.5,102.81V69.25M513.5,101.61V67.78M514.5,116.60V67.78M515.5,98.04V93.34M516.5,103.89V74.29M517.5,98.56V75.16M518.5,101.76V74.12M519.5,100.68V74.12M520.5,94.71V82.22M521.5,116.60V66.17M522.5,98.71V75.67M523.5,103.50V75.67M524.5,101.81V71.38M525.5,98.24V94.05M526.5,103.02V71.38M527.5,103.90V94.57M528.5,100.89V84.69M529.5,103.67V77.45M530.5,116.60V78.53M531.5,101.31V78.53M532.5,95.05V84.97M533.5,95.51V84.97M534.5,100.67V83.81M535.5,98.86V76.29M536.5,116.60V89.19M537.5,96.84V78.06M538.5,97.42V78.06M539.5,98.12V76.39M540.5,102.95V88.09M541.5,116.60V85.21M542.5,102.44V67.63M543.5,96.92V67.63M544.5,103.72V66.08M545.5,96.61V79.68M546.5,103.06V73.84M547.5,103.12V70.52M548.5,103.67V67.06M549.5,100.40V70.52M550.5,101.43V72.50M551.5,99.94V80.50M552.5,95.91V77.61M553.5,94.90V77.61M554.5,101.86V77.61M555.5,102.82V70.79M556.5,96.24V79.62M557.5,97.23V79.62M558.5,98.01V92.21M559.5,95.43V72.42M560.5,116.60V72.67M561.5,99.93V75.90M562.5,116.60V71.88M563.5,116.60V71.88M564.5,100.02V71.88M565.5,96.86V68.41M566.5,103.32V68.41M567.5,99.86V67.85M568.5,96.09V67.85M569.5,104.42V72.49M570.5,95.64V72.49M571.5,103.59V72.49M572.5,96.43V64.10M573.5,116.60V64.10M574.5,99.24V76.06M575.5,94.67V76.25M576.5,101.04V76.25M577.5,98.01V70.60M578.5,100.11V95.57M579.5,96.58V66.23M580.5,98.12V85.36M581.5,98.85V71.18M582.5,116.60V71.18M583.5,102.82V71.45M584.5,94.60V72.66M585.5,99.06V72.66M586.5,101.99V72.66M587.5,100.15V64.97M588.5,102.23V76.05" stroke="#000" stroke-width="1" fill="none"/>
</g>
<rect x="302.3" y="24.2" width="286.7" height="92.39999999999999" fill="none" stroke="#222" stroke-width="0.9"/>
<text x="560" y="31.7" font-size="7.5" fill="#111" text-anchor="end" font-weight="bold" font-family='"Liberation Sans", sans-serif' textLength="19.0" lengthAdjust="spacingAndGlyphs" >acetyl</text>
<line x1="561.7" y1="28.90" x2="584.7" y2="28.90" stroke="#c05050" stroke-width="1.4"/>
<text x="560" y="40.75" font-size="7.5" fill="#111" text-anchor="end" font-weight="bold" font-family='"Liberation Sans", sans-serif' textLength="22.9" lengthAdjust="spacingAndGlyphs" >methyl</text>
<line x1="561.7" y1="38.90" x2="584.7" y2="38.90" stroke="#0000ff" stroke-width="2"/>
<text x="560" y="50.4" font-size="7.5" fill="#111" text-anchor="end" font-weight="bold" font-family='"Liberation Sans", sans-serif' textLength="10.2" lengthAdjust="spacingAndGlyphs" >SIR</text>
<line x1="561.7" y1="48.50" x2="584.7" y2="48.50" stroke="#000" stroke-width="1"/>
<rect x="415.3" y="3.5" width="83.9" height="27.5" fill="#fff" stroke="#111" stroke-width="1.1"/>
<text x="457.2" y="14.5" font-size="8.4" fill="#111" text-anchor="middle" font-weight="bold" font-family='"Liberation Sans", sans-serif' textLength="74.8" lengthAdjust="spacingAndGlyphs" >Including dynamic</text>
<text x="457.6" y="25.9" font-size="8.4" fill="#111" text-anchor="middle" font-weight="bold" font-family='"Liberation Sans", sans-serif' textLength="65.5" lengthAdjust="spacingAndGlyphs" >volume changes</text>
<text x="0" y="0" font-size="7.6" font-weight="bold" fill="#111" text-anchor="middle" font-family='"Liberation Sans", sans-serif' textLength="55" lengthAdjust="spacingAndGlyphs" transform="translate(286.9,69.3) rotate(-90)">H3-H4 number</text>
<clipPath id="bclip1"><rect x="302.3" y="150.7" width="286.7" height="92.80000000000001"/></clipPath>
<line x1="309.50" y1="150.7" x2="309.50" y2="243.5" stroke="#c4c4c4" stroke-width="1"/>
<line x1="316.50" y1="150.7" x2="316.50" y2="243.5" stroke="#c4c4c4" stroke-width="1"/>
<line x1="323.50" y1="150.7" x2="323.50" y2="243.5" stroke="#c4c4c4" stroke-width="1"/>
<line x1="330.50" y1="150.7" x2="330.50" y2="243.5" stroke="#c4c4c4" stroke-width="1"/>
<line x1="338.50" y1="150.7" x2="338.50" y2="243.5" stroke="#c4c4c4" stroke-width="1"/>
<line x1="345.50" y1="150.7" x2="345.50" y2="243.5" stroke="#c4c4c4" stroke-width="1"/>
<line x1="352.50" y1="150.7" x2="352.50" y2="243.5" stroke="#c4c4c4" stroke-width="1"/>
<line x1="359.50" y1="150.7" x2="359.50" y2="243.5" stroke="#c4c4c4" stroke-width="1"/>
<line x1="366.50" y1="150.7" x2="366.50" y2="243.5" stroke="#c4c4c4" stroke-width="1"/>
<line x1="373.50" y1="150.7" x2="373.50" y2="243.5" stroke="#c4c4c4" stroke-width="1"/>
<line x1="381.50" y1="150.7" x2="381.50" y2="243.5" stroke="#c4c4c4" stroke-width="1"/>
<line x1="388.50" y1="150.7" x2="388.50" y2="243.5" stroke="#c4c4c4" stroke-width="1"/>
<line x1="395.50" y1="150.7" x2="395.50" y2="243.5" stroke="#c4c4c4" stroke-width="1"/>
<line x1="402.50" y1="150.7" x2="402.50" y2="243.5" stroke="#c4c4c4" stroke-width="1"/>
<line x1="409.50" y1="150.7" x2="409.50" y2="243.5" stroke="#c4c4c4" stroke-width="1"/>
<line x1="416.50" y1="150.7" x2="416.50" y2="243.5" stroke="#c4c4c4" stroke-width="1"/>
<line x1="424.50" y1="150.7" x2="424.50" y2="243.5" stroke="#c4c4c4" stroke-width="1"/>
<line x1="431.50" y1="150.7" x2="431.50" y2="243.5" stroke="#c4c4c4" stroke-width="1"/>
<line x1="438.50" y1="150.7" x2="438.50" y2="243.5" stroke="#c4c4c4" stroke-width="1"/>
<line x1="445.50" y1="150.7" x2="445.50" y2="243.5" stroke="#c4c4c4" stroke-width="1"/>
<line x1="452.50" y1="150.7" x2="452.50" y2="243.5" stroke="#c4c4c4" stroke-width="1"/>
<line x1="459.50" y1="150.7" x2="459.50" y2="243.5" stroke="#c4c4c4" stroke-width="1"/>
<line x1="467.50" y1="150.7" x2="467.50" y2="243.5" stroke="#c4c4c4" stroke-width="1"/>
<line x1="474.50" y1="150.7" x2="474.50" y2="243.5" stroke="#c4c4c4" stroke-width="1"/>
<line x1="481.50" y1="150.7" x2="481.50" y2="243.5" stroke="#c4c4c4" stroke-width="1"/>
<line x1="488.50" y1="150.7" x2="488.50" y2="243.5" stroke="#c4c4c4" stroke-width="1"/>
<line x1="495.50" y1="150.7" x2="495.50" y2="243.5" stroke="#c4c4c4" stroke-width="1"/>
<line x1="502.50" y1="150.7" x2="502.50" y2="243.5" stroke="#c4c4c4" stroke-width="1"/>
<line x1="510.50" y1="150.7" x2="510.50" y2="243.5" stroke="#c4c4c4" stroke-width="1"/>
<line x1="517.50" y1="150.7" x2="517.50" y2="243.5" stroke="#c4c4c4" stroke-width="1"/>
<line x1="524.50" y1="150.7" x2="524.50" y2="243.5" stroke="#c4c4c4" stroke-width="1"/>
<line x1="531.50" y1="150.7" x2="531.50" y2="243.5" stroke="#c4c4c4" stroke-width="1"/>
<line x1="538.50" y1="150.7" x2="538.50" y2="243.5" stroke="#c4c4c4" stroke-width="1"/>
<line x1="545.50" y1="150.7" x2="545.50" y2="243.5" stroke="#c4c4c4" stroke-width="1"/>
<line x1="553.50" y1="150.7" x2="553.50" y2="243.5" stroke="#c4c4c4" stroke-width="1"/>
<line x1="560.50" y1="150.7" x2="560.50" y2="243.5" stroke="#c4c4c4" stroke-width="1"/>
<line x1="567.50" y1="150.7" x2="567.50" y2="243.5" stroke="#c4c4c4" stroke-width="1"/>
<line x1="574.50" y1="150.7" x2="574.50" y2="243.5" stroke="#c4c4c4" stroke-width="1"/>
<line x1="581.50" y1="150.7" x2="581.50" y2="243.5" stroke="#c4c4c4" stroke-width="1"/>
<line x1="302.3" y1="243.50" x2="306.8" y2="243.50" stroke="#555" stroke-width="0.7"/>
<line x1="584.5" y1="243.50" x2="589.0" y2="243.50" stroke="#555" stroke-width="0.7"/>
<text x="298" y="245.7" font-size="7.1" fill="#4a4a55" text-anchor="end" font-family='"Liberation Sans", sans-serif' >0</text>
<line x1="302.3" y1="226.30" x2="306.8" y2="226.30" stroke="#555" stroke-width="0.7"/>
<line x1="584.5" y1="226.30" x2="589.0" y2="226.30" stroke="#555" stroke-width="0.7"/>
<text x="298" y="228.5" font-size="7.1" fill="#4a4a55" text-anchor="end" font-family='"Liberation Sans", sans-serif' >5</text>
<line x1="302.3" y1="209.10" x2="306.8" y2="209.10" stroke="#555" stroke-width="0.7"/>
<line x1="584.5" y1="209.10" x2="589.0" y2="209.10" stroke="#555" stroke-width="0.7"/>
<text x="298" y="211.29999999999998" font-size="7.1" fill="#4a4a55" text-anchor="end" font-family='"Liberation Sans", sans-serif' >10</text>
<line x1="302.3" y1="191.90" x2="306.8" y2="191.90" stroke="#555" stroke-width="0.7"/>
<line x1="584.5" y1="191.90" x2="589.0" y2="191.90" stroke="#555" stroke-width="0.7"/>
<text x="298" y="194.1" font-size="7.1" fill="#4a4a55" text-anchor="end" font-family='"Liberation Sans", sans-serif' >15</text>
<line x1="302.3" y1="174.70" x2="306.8" y2="174.70" stroke="#555" stroke-width="0.7"/>
<line x1="584.5" y1="174.70" x2="589.0" y2="174.70" stroke="#555" stroke-width="0.7"/>
<text x="298" y="176.89999999999998" font-size="7.1" fill="#4a4a55" text-anchor="end" font-family='"Liberation Sans", sans-serif' >20</text>
<line x1="302.3" y1="157.50" x2="306.8" y2="157.50" stroke="#555" stroke-width="0.7"/>
<line x1="584.5" y1="157.50" x2="589.0" y2="157.50" stroke="#555" stroke-width="0.7"/>
<text x="298" y="159.7" font-size="7.1" fill="#4a4a55" text-anchor="end" font-family='"Liberation Sans", sans-serif' >25</text>
<text x="302.3" y="256.1" font-size="6.9" fill="#4a4a55" text-anchor="middle" font-family='"Liberation Sans", sans-serif' >0</text>
<text x="338.1375" y="256.1" font-size="6.9" fill="#4a4a55" text-anchor="middle" font-family='"Liberation Sans", sans-serif' >5</text>
<text x="373.975" y="256.1" font-size="6.9" fill="#4a4a55" text-anchor="middle" font-family='"Liberation Sans", sans-serif' >10</text>
<text x="409.8125" y="256.1" font-size="6.9" fill="#4a4a55" text-anchor="middle" font-family='"Liberation Sans", sans-serif' >15</text>
<text x="445.65" y="256.1" font-size="6.9" fill="#4a4a55" text-anchor="middle" font-family='"Liberation Sans", sans-serif' >20</text>
<text x="481.4875" y="256.1" font-size="6.9" fill="#4a4a55" text-anchor="middle" font-family='"Liberation Sans", sans-serif' >25</text>
<text x="517.325" y="256.1" font-size="6.9" fill="#4a4a55" text-anchor="middle" font-family='"Liberation Sans", sans-serif' >30</text>
<text x="553.1625" y="256.1" font-size="6.9" fill="#4a4a55" text-anchor="middle" font-family='"Liberation Sans", sans-serif' >35</text>
<text x="589.0" y="256.1" font-size="6.9" fill="#4a4a55" text-anchor="middle" font-family='"Liberation Sans", sans-serif' >40</text>
<g clip-path="url(#bclip1)">
<path d="M302.5,243.50V231.83M303.5,243.50V230.78M303.5,243.50V210.02M305.5,243.50V230.00M306.5,243.50V240.41M307.5,243.50V238.16M308.5,243.50V235.03M308.5,243.50V219.45M309.5,243.50V235.26M310.5,243.50V230.23M310.5,243.50V207.48M311.5,243.50V223.92M313.5,243.50V230.33M314.5,243.50V222.88M315.5,243.50V229.97M318.5,243.50V237.77M320.5,243.50V233.28M321.5,243.50V238.12M321.5,243.50V207.01M322.5,243.50V217.68M323.5,243.50V233.05M324.5,243.50V217.70M325.5,243.50V236.73M327.5,243.50V236.51M329.5,243.50V231.14M330.5,243.50V238.58M331.5,243.50V235.26M331.5,243.50V227.38M334.5,243.50V238.20M336.5,243.50V234.77M336.5,243.50V223.92M337.5,243.50V237.47M338.5,243.50V232.70M341.5,243.50V237.71M341.5,243.50V220.73M344.5,243.50V235.40M344.5,243.50V222.25M345.5,243.50V233.73M346.5,243.50V230.81M346.5,243.50V215.53M347.5,243.50V236.36M347.5,243.50V227.95M348.5,243.50V237.29M348.5,243.50V219.78M349.5,243.50V235.35M351.5,243.50V233.95M351.5,243.50V209.57M352.5,243.50V234.73M353.5,243.50V235.20M354.5,243.50V231.95M355.5,243.50V239.39M355.5,243.50V206.25M358.5,243.50V234.00M359.5,243.50V233.88M360.5,243.50V230.18M360.5,243.50V225.52M361.5,243.50V240.18M362.5,243.50V239.71M363.5,243.50V238.64M364.5,243.50V237.93M364.5,243.50V218.43M365.5,243.50V209.38M366.5,243.50V238.87M366.5,243.50V212.15M367.5,243.50V233.11M368.5,243.50V234.70M368.5,243.50V209.04M369.5,243.50V234.14M370.5,243.50V239.40M372.5,243.50V239.57M372.5,243.50V211.45M373.5,243.50V231.97M373.5,243.50V212.86M375.5,243.50V230.48M377.5,243.50V229.68M378.5,243.50V239.31M379.5,243.50V236.08M379.5,243.50V228.30M380.5,243.50V239.55M381.5,243.50V239.46M382.5,243.50V232.62M382.5,243.50V211.56M383.5,243.50V237.32M385.5,243.50V231.36M386.5,243.50V218.14M389.5,243.50V230.36M390.5,243.50V235.72M391.5,243.50V239.15M391.5,243.50V208.18M393.5,243.50V223.85M396.5,243.50V235.42M396.5,243.50V206.97M397.5,243.50V230.06M399.5,243.50V231.41M400.5,243.50V218.79M401.5,243.50V224.40M403.5,243.50V234.36M404.5,243.50V213.37M405.5,243.50V239.12M407.5,243.50V233.55M408.5,243.50V236.70M409.5,243.50V237.66M409.5,243.50V216.90M410.5,243.50V233.31M411.5,243.50V235.15M411.5,243.50V206.73M413.5,243.50V227.69M414.5,243.50V233.72M414.5,243.50V223.94M417.5,243.50V233.23M419.5,243.50V210.40M421.5,243.50V231.79M423.5,243.50V240.20M425.5,243.50V233.59M427.5,243.50V240.63M428.5,243.50V233.46M429.5,243.50V239.56M430.5,243.50V228.18M431.5,243.50V229.16M432.5,243.50V230.49M432.5,243.50V218.82M433.5,243.50V237.95M434.5,243.50V232.90M435.5,243.50V232.13M435.5,243.50V224.14M436.5,243.50V217.00M437.5,243.50V230.68M438.5,243.50V231.43M438.5,243.50V227.11M440.5,243.50V231.51M440.5,243.50V205.87M442.5,243.50V238.87M442.5,243.50V222.18M444.5,243.50V240.73M444.5,243.50V205.75M447.5,243.50V230.14M448.5,243.50V238.92M448.5,243.50V218.63M449.5,243.50V239.74M450.5,243.50V240.30M450.5,243.50V210.10M451.5,243.50V232.87M452.5,243.50V230.73M453.5,243.50V234.39M453.5,243.50V227.15M454.5,243.50V237.72M455.5,243.50V238.21M457.5,243.50V235.08M457.5,243.50V222.82M459.5,243.50V231.93M459.5,243.50V217.17M460.5,243.50V236.59M460.5,243.50V221.73M461.5,243.50V230.56M461.5,243.50V216.04M462.5,243.50V237.23M462.5,243.50V224.99M463.5,243.50V231.12M466.5,243.50V240.22M466.5,243.50V219.60M467.5,243.50V236.30M468.5,243.50V235.52M469.5,243.50V234.19M470.5,243.50V228.72M472.5,243.50V238.14M473.5,243.50V230.80M473.5,243.50V227.35M474.5,243.50V237.88M474.5,243.50V228.66M475.5,243.50V239.84M476.5,243.50V227.94M477.5,243.50V234.46M478.5,243.50V231.99M478.5,243.50V210.50M479.5,243.50V229.76M480.5,243.50V231.97M480.5,243.50V211.93M481.5,243.50V238.71M482.5,243.50V226.92M483.5,243.50V235.95M484.5,243.50V238.68M484.5,243.50V211.63M486.5,243.50V235.85M487.5,243.50V227.18M487.5,243.50V212.82M488.5,243.50V234.94M488.5,243.50V207.77M489.5,243.50V238.27M489.5,243.50V212.69M490.5,243.50V239.23M491.5,243.50V222.81M492.5,243.50V229.72M492.5,243.50V224.16M494.5,243.50V240.50M495.5,243.50V213.16M496.5,243.50V237.72M497.5,243.50V238.78M498.5,243.50V240.58M498.5,243.50V221.83M499.5,243.50V231.60M499.5,243.50V228.18M500.5,243.50V240.03M501.5,243.50V237.78M502.5,243.50V226.58M503.5,243.50V232.05M505.5,243.50V239.72M507.5,243.50V229.51M507.5,243.50V212.20M508.5,243.50V237.22M509.5,243.50V228.44M510.5,243.50V226.34M511.5,243.50V232.92M511.5,243.50V223.56M512.5,243.50V211.80M514.5,243.50V235.05M515.5,243.50V230.41M516.5,243.50V228.53M517.5,243.50V232.34M517.5,243.50V211.52M518.5,243.50V232.35M518.5,243.50V222.84M519.5,243.50V227.03M520.5,243.50V231.15M521.5,243.50V235.83M521.5,243.50V227.76M522.5,243.50V228.29M523.5,243.50V240.52M524.5,243.50V238.06M524.5,243.50V206.90M525.5,243.50V232.02M528.5,243.50V229.78M529.5,243.50V227.23M530.5,243.50V236.25M531.5,243.50V229.51M533.5,243.50V236.49M534.5,243.50V234.47M534.5,243.50V215.00M535.5,243.50V224.31M536.5,243.50V229.41M537.5,243.50V234.20M538.5,243.50V215.29M539.5,243.50V231.76M540.5,243.50V239.94M541.5,243.50V228.23M541.5,243.50V208.33M542.5,243.50V231.90M542.5,243.50V218.99M543.5,243.50V226.67M543.5,243.50V210.47M544.5,243.50V231.92M546.5,243.50V231.12M547.5,243.50V232.43M548.5,243.50V229.33M549.5,243.50V229.71M550.5,243.50V234.90M551.5,243.50V229.22M552.5,243.50V232.82M554.5,243.50V240.46M555.5,243.50V239.97M556.5,243.50V231.63M556.5,243.50V214.10M557.5,243.50V226.53M558.5,243.50V229.19M558.5,243.50V207.25M559.5,243.50V221.73M560.5,243.50V239.82M561.5,243.50V226.81M561.5,243.50V225.91M562.5,243.50V231.72M563.5,243.50V237.07M564.5,243.50V233.60M566.5,243.50V240.68M566.5,243.50V216.51M567.5,243.50V228.23M568.5,243.50V228.92M569.5,243.50V207.27M572.5,243.50V229.67M573.5,243.50V236.01M574.5,243.50V234.06M575.5,243.50V229.40M576.5,243.50V232.30M576.5,243.50V221.50M577.5,243.50V232.48M577.5,243.50V224.91M578.5,243.50V240.63M579.5,243.50V231.03M580.5,243.50V236.86M581.5,243.50V239.63M582.5,243.50V226.91M583.5,243.50V230.41M585.5,243.50V232.99M586.5,243.50V227.43M587.5,243.50V230.55M588.5,243.50V231.79M588.5,243.50V229.52" stroke="#b22222" stroke-width="1" fill="none"/>
<path d="M303.5,243.50V178.38M304.5,243.50V164.96M311.5,243.50V207.31M319.5,243.50V193.19M321.5,243.50V192.99M328.5,243.50V171.74M331.5,243.50V203.44M336.5,243.50V181.96M343.5,243.50V194.41M348.5,243.50V206.84M350.5,243.50V199.83M359.5,243.50V171.59M363.5,243.50V178.58M379.5,243.50V167.60M384.5,243.50V169.14M391.5,243.50V168.82M402.5,243.50V175.47M407.5,243.50V184.82M423.5,243.50V197.85M425.5,243.50V181.44M429.5,243.50V188.14M434.5,243.50V170.56M437.5,243.50V183.58M452.5,243.50V171.62M464.5,243.50V176.18M465.5,243.50V194.25M476.5,243.50V183.80M480.5,243.50V169.66M497.5,243.50V207.21M498.5,243.50V169.68M521.5,243.50V194.87M535.5,243.50V173.72M541.5,243.50V191.53M542.5,243.50V195.13M549.5,243.50V178.13M556.5,243.50V203.59M560.5,243.50V208.64M563.5,243.50V204.55M578.5,243.50V170.66M581.5,243.50V167.82M585.5,243.50V171.45M586.5,243.50V205.72M302.5,243.50V159.22M303.5,243.50V174.70M305.5,243.50V188.46M306.5,243.50V202.22" stroke="#b83838" stroke-width="1.35" fill="none"/>
<polyline points="302.30,206.35 307.60,206.35 307.60,206.35 307.60,197.75 309.20,197.75 309.20,197.75 309.20,238.00 324.00,238.00 324.00,238.00 324.00,240.06 332.00,240.06 332.00,240.06 332.00,240.75 339.00,240.75 339.00,240.75 339.00,241.78 346.00,241.78 346.00,241.78 346.00,240.40 352.00,240.40 352.00,240.40 352.00,238.68 366.00,238.68 366.00,238.68 366.00,232.84 372.00,232.84 372.00,232.84 372.00,237.31 380.00,237.31 380.00,237.31 380.00,232.84 388.00,232.84 388.00,232.84 388.00,230.77 398.00,230.77 398.00,230.77 398.00,237.31 408.00,237.31 408.00,237.31 408.00,221.83 412.00,221.83 412.00,221.83 412.00,206.00 424.00,206.00 424.00,206.00 424.00,221.83 428.00,221.83 428.00,221.83 428.00,234.90 432.00,234.90 432.00,234.90 432.00,236.96 440.50,236.96 440.50,236.96 440.50,233.18 444.00,233.18 444.00,233.18 444.00,238.00 468.00,238.00 468.00,238.00 468.00,242.81 476.00,242.81 476.00,242.81 476.00,239.37 488.00,239.37 488.00,239.37 488.00,225.96 490.00,225.96 490.00,225.96 490.00,238.00 506.00,238.00 506.00,238.00 506.00,235.93 520.00,235.93 520.00,235.93 520.00,238.68 536.00,238.68 536.00,238.68 536.00,242.12 552.00,242.12 552.00,242.12 552.00,238.34 568.00,238.34 568.00,238.34 568.00,240.06 580.00,240.06 580.00,240.06 580.00,236.62 589.00,236.62" fill="none" stroke="#0000ff" stroke-width="1.8" stroke-linejoin="miter" />
<path d="M302.5,243.50V241.13M303.5,243.50V232.95M304.5,239.73V239.48M305.5,243.07V224.50M306.5,242.44V232.36M307.5,241.41V223.97M308.5,243.50V223.97M309.5,243.50V240.89M310.5,235.51V208.85M311.5,230.71V227.19M312.5,240.48V206.97M313.5,235.49V206.97M314.5,235.08V212.83M315.5,236.12V205.82M316.5,234.27V201.59M317.5,234.55V220.50M318.5,232.03V201.76M319.5,238.42V201.76M320.5,232.81V201.76M321.5,238.77V214.90M322.5,235.06V213.04M323.5,240.21V209.08M324.5,233.25V210.17M325.5,239.27V212.55M326.5,243.50V212.99M327.5,237.85V212.99M328.5,243.50V212.99M329.5,232.26V202.42M330.5,243.50V202.42M331.5,243.50V200.49M332.5,237.52V200.49M333.5,236.71V220.19M334.5,243.50V217.54M335.5,230.58V198.57M336.5,238.47V207.43M337.5,232.32V207.43M338.5,243.50V207.43M339.5,231.82V211.97M340.5,234.53V202.14M341.5,236.76V199.60M342.5,243.50V201.66M343.5,239.19V201.66M344.5,234.96V201.66M345.5,243.50V213.96M346.5,235.89V200.89M347.5,232.87V200.89M348.5,243.50V212.82M349.5,243.50V223.03M350.5,237.93V215.43M351.5,234.87V202.95M352.5,236.52V206.52M353.5,232.41V206.52M354.5,229.85V212.04M355.5,236.75V204.14M356.5,238.90V207.26M357.5,234.48V203.16M358.5,230.49V212.94M359.5,233.90V202.54M360.5,232.97V201.62M361.5,235.93V203.39M362.5,238.50V203.39M363.5,234.87V201.37M364.5,229.90V218.77M365.5,243.50V201.37M366.5,238.91V214.84M367.5,243.50V227.36M368.5,230.74V214.84M369.5,234.75V216.63M370.5,233.35V200.80M371.5,243.50V200.80M372.5,231.48V203.97M373.5,230.66V208.91M374.5,229.76V225.53M375.5,240.70V240.54M376.5,236.49V217.88M377.5,235.80V201.65M378.5,238.83V209.22M379.5,237.34V200.89M380.5,231.79V209.22M381.5,236.70V201.85M382.5,232.82V208.03M383.5,238.10V205.07M384.5,243.50V202.59M385.5,234.36V202.59M386.5,232.24V210.80M387.5,231.63V223.76M388.5,243.50V200.40M389.5,243.50V200.40M390.5,234.55V213.63M391.5,231.21V199.06M392.5,233.90V228.46M393.5,237.67V198.75M394.5,235.74V216.98M395.5,243.50V208.37M396.5,240.13V207.32M397.5,233.97V203.19M398.5,239.11V220.78M399.5,243.50V197.88M400.5,234.55V209.52M401.5,234.51V202.89M402.5,231.67V202.89M403.5,234.33V225.40M404.5,236.16V209.45M405.5,231.22V207.28M406.5,240.63V214.50M407.5,243.50V215.94M408.5,232.79V215.94M409.5,240.61V206.33M410.5,230.26V206.33M411.5,243.50V206.33M412.5,240.87V221.48M413.5,243.30V221.48M414.5,243.50V234.82M415.5,238.80V234.82M416.5,243.50V226.70M417.5,243.50V241.09M418.5,240.12V197.39M419.5,243.50V239.18M420.5,243.50V223.03M421.5,243.22V223.03M422.5,243.50V219.29M423.5,237.45V234.15M424.5,243.50V217.83M425.5,238.33V217.83M426.5,236.45V211.54M427.5,236.02V211.54M428.5,232.59V211.54M429.5,233.60V232.61M430.5,229.97V201.05M431.5,235.50V215.80M432.5,233.13V226.07M433.5,232.87V202.36M434.5,238.33V201.55M435.5,237.97V200.54M436.5,243.50V201.55M437.5,234.26V229.46M438.5,224.95V204.25M439.5,229.15V204.25M440.5,231.72V204.91M441.5,243.50V204.91M442.5,243.50V201.08M443.5,230.95V201.08M444.5,228.31V201.08M445.5,230.80V208.86M446.5,243.50V204.65M447.5,225.52V211.56M448.5,243.50V211.16M449.5,224.94V214.72M450.5,227.17V204.11M451.5,243.50V204.11M452.5,227.59V205.62M453.5,226.61V203.96M454.5,232.83V201.24M455.5,225.36V210.80M456.5,226.08V210.80M457.5,229.12V208.90M458.5,228.49V208.90M459.5,243.50V217.11M460.5,225.15V223.40M461.5,243.50V216.21M462.5,233.17V216.21M463.5,243.50V203.52M464.5,231.27V203.52M465.5,243.50V204.30M466.5,232.45V210.49M467.5,243.50V196.49M468.5,225.71V224.40M469.5,227.83V206.69M470.5,229.41V206.69M471.5,227.44V202.52M472.5,225.43V202.52M473.5,243.50V202.52M474.5,243.50V214.58M475.5,231.00V214.58M476.5,232.05V214.58M477.5,243.50V205.28M478.5,243.50V205.28M479.5,232.26V204.18M480.5,233.66V229.54M481.5,243.50V213.78M482.5,226.09V218.02M483.5,232.17V202.45M484.5,229.72V202.45M485.5,229.86V202.45M486.5,243.50V208.53M487.5,224.93V208.53M488.5,225.63V196.20M489.5,243.50V212.24M490.5,232.99V213.25M491.5,225.66V205.71M492.5,232.47V208.27M493.5,234.42V208.27M494.5,234.36V202.78M495.5,243.50V202.78M496.5,226.53V209.53M497.5,228.11V211.60M498.5,233.76V195.38M499.5,227.13V202.99M500.5,233.54V202.99M501.5,232.95V213.77M502.5,230.76V210.47M503.5,233.67V210.47M504.5,243.50V203.11M505.5,227.67V203.11M506.5,230.26V199.70M507.5,228.12V223.32M508.5,243.50V201.78M509.5,231.33V204.24M510.5,243.50V204.53M511.5,243.50V204.53M512.5,243.50V217.59M513.5,243.50V217.59M514.5,232.67V202.15M515.5,231.47V202.15M516.5,243.50V202.15M517.5,243.50V205.00M518.5,230.13V205.00M519.5,243.50V201.47M520.5,232.14V201.47M521.5,232.12V195.50M522.5,230.70V224.42M523.5,233.03V223.72M524.5,243.50V205.42M525.5,228.24V204.00M526.5,243.50V202.78M527.5,243.50V216.10M528.5,243.50V209.42M529.5,231.95V209.42M530.5,243.50V209.42M531.5,243.50V214.37M532.5,243.50V201.56M533.5,232.26V201.29M534.5,228.61V210.65M535.5,227.73V210.65M536.5,229.20V212.62M537.5,243.50V201.40M538.5,225.94V201.40M539.5,243.50V201.40M540.5,233.43V224.02M541.5,230.45V217.03M542.5,243.50V203.25M543.5,243.50V203.25M544.5,243.50V198.97M545.5,227.87V217.10M546.5,233.31V217.10M547.5,230.88V215.20M548.5,243.50V215.20M549.5,229.81V210.74M550.5,232.97V210.74M551.5,227.83V210.86M552.5,243.50V201.06M553.5,243.50V201.06M554.5,243.50V201.06M555.5,243.50V236.52M556.5,229.88V203.18M557.5,243.50V206.73M558.5,232.17V213.94M559.5,230.93V205.88M560.5,228.48V205.88M561.5,226.80V205.88M562.5,232.90V215.65M563.5,233.18V215.65M564.5,243.50V207.01M565.5,226.51V207.01M566.5,226.44V198.17M567.5,227.19V212.41M568.5,232.80V198.61M569.5,229.51V202.76M570.5,229.05V228.09M571.5,228.70V204.84M572.5,230.82V195.62M573.5,243.50V208.16M574.5,234.00V208.16M575.5,243.50V211.49M576.5,243.50V200.36M577.5,227.18V210.18M578.5,231.76V200.52M579.5,234.17V225.85M580.5,243.50V204.41M581.5,234.28V233.75M582.5,233.60V204.41M583.5,224.98V206.26M584.5,243.50V206.94M585.5,225.04V197.64M586.5,231.62V210.49M587.5,232.19V198.18M588.5,227.54V213.66" stroke="#000" stroke-width="1" fill="none"/>
</g>
<rect x="302.3" y="150.7" width="286.7" height="92.80000000000001" fill="none" stroke="#222" stroke-width="0.9"/>
<text x="560" y="158.2" font-size="7.5" fill="#111" text-anchor="end" font-weight="bold" font-family='"Liberation Sans", sans-serif' textLength="19.0" lengthAdjust="spacingAndGlyphs" >acetyl</text>
<line x1="561.7" y1="155.40" x2="584.7" y2="155.40" stroke="#c05050" stroke-width="1.4"/>
<text x="560" y="167.25" font-size="7.5" fill="#111" text-anchor="end" font-weight="bold" font-family='"Liberation Sans", sans-serif' textLength="22.9" lengthAdjust="spacingAndGlyphs" >methyl</text>
<line x1="561.7" y1="165.40" x2="584.7" y2="165.40" stroke="#0000ff" stroke-width="2"/>
<text x="560" y="176.89999999999998" font-size="7.5" fill="#111" text-anchor="end" font-weight="bold" font-family='"Liberation Sans", sans-serif' textLength="10.2" lengthAdjust="spacingAndGlyphs" >SIR</text>
<line x1="561.7" y1="175.00" x2="584.7" y2="175.00" stroke="#000" stroke-width="1"/>
<rect x="415.3" y="141.3" width="83.9" height="27.5" fill="#fff" stroke="#111" stroke-width="1.1"/>
<text x="457.2" y="152.3" font-size="8.4" fill="#111" text-anchor="middle" font-weight="bold" font-family='"Liberation Sans", sans-serif' textLength="71.4" lengthAdjust="spacingAndGlyphs" >Without dynamic</text>
<text x="457.6" y="163.70000000000002" font-size="8.4" fill="#111" text-anchor="middle" font-weight="bold" font-family='"Liberation Sans", sans-serif' textLength="65.5" lengthAdjust="spacingAndGlyphs" >volume changes</text>
<text x="0" y="0" font-size="7.6" font-weight="bold" fill="#111" text-anchor="middle" font-family='"Liberation Sans", sans-serif' textLength="55" lengthAdjust="spacingAndGlyphs" transform="translate(286.9,196.0) rotate(-90)">H3-H4 number</text>
<text x="436.9" y="276.8" font-size="8.2" fill="#111" text-anchor="start" font-weight="bold" font-family='"Liberation Sans", sans-serif' textLength="41.4" lengthAdjust="spacingAndGlyphs" >Generation</text>
<text x="613.9" y="9.0" font-size="11.75" fill="#000" text-anchor="start" font-weight="bold" font-family='"Liberation Sans", sans-serif' textLength="8.8" lengthAdjust="spacingAndGlyphs" stroke="#000" stroke-width="1" stroke-linejoin="round">C</text>
<clipPath id="cclip0"><rect x="646.3" y="2.8" width="91.20000000000005" height="59.2"/></clipPath>
<line x1="669.7" y1="2.8" x2="669.7" y2="62.0" stroke="#bdbdbd" stroke-width="1"/>
<line x1="714.8" y1="2.8" x2="714.8" y2="62.0" stroke="#bdbdbd" stroke-width="1"/>
<line x1="646.3" y1="62.00" x2="650.8" y2="62.00" stroke="#222" stroke-width="0.8"/>
<line x1="733.0" y1="62.00" x2="737.5" y2="62.00" stroke="#222" stroke-width="0.8"/>
<text x="642.4" y="64.3" font-size="6.6" fill="#4a4a55" text-anchor="end" font-family='"Liberation Sans", sans-serif' >0</text>
<line x1="646.3" y1="50.16" x2="650.8" y2="50.16" stroke="#222" stroke-width="0.8"/>
<line x1="733.0" y1="50.16" x2="737.5" y2="50.16" stroke="#222" stroke-width="0.8"/>
<text x="642.4" y="52.459999999999994" font-size="6.6" fill="#4a4a55" text-anchor="end" font-family='"Liberation Sans", sans-serif' >0.2</text>
<line x1="646.3" y1="38.32" x2="650.8" y2="38.32" stroke="#222" stroke-width="0.8"/>
<line x1="733.0" y1="38.32" x2="737.5" y2="38.32" stroke="#222" stroke-width="0.8"/>
<text x="642.4" y="40.61999999999999" font-size="6.6" fill="#4a4a55" text-anchor="end" font-family='"Liberation Sans", sans-serif' >0.4</text>
<line x1="646.3" y1="26.48" x2="650.8" y2="26.48" stroke="#222" stroke-width="0.8"/>
<line x1="733.0" y1="26.48" x2="737.5" y2="26.48" stroke="#222" stroke-width="0.8"/>
<text x="642.4" y="28.779999999999998" font-size="6.6" fill="#4a4a55" text-anchor="end" font-family='"Liberation Sans", sans-serif' >0.6</text>
<line x1="646.3" y1="14.64" x2="650.8" y2="14.64" stroke="#222" stroke-width="0.8"/>
<line x1="733.0" y1="14.64" x2="737.5" y2="14.64" stroke="#222" stroke-width="0.8"/>
<text x="642.4" y="16.939999999999994" font-size="6.6" fill="#4a4a55" text-anchor="end" font-family='"Liberation Sans", sans-serif' >0.8</text>
<line x1="646.3" y1="2.80" x2="650.8" y2="2.80" stroke="#222" stroke-width="0.8"/>
<line x1="733.0" y1="2.80" x2="737.5" y2="2.80" stroke="#222" stroke-width="0.8"/>
<text x="642.4" y="5.099999999999997" font-size="6.6" fill="#4a4a55" text-anchor="end" font-family='"Liberation Sans", sans-serif' >1</text>
<text x="669.3000000000001" y="73.6" font-size="6.5" fill="#4a4a55" text-anchor="middle" font-family='"Liberation Sans", sans-serif' >E</text>
<text x="714.9" y="73.6" font-size="6.5" fill="#4a4a55" text-anchor="middle" font-family='"Liberation Sans", sans-serif' >I</text>
<text x="651.2" y="10.6" font-size="8.0" fill="#111" text-anchor="start" font-weight="bold" font-family='"Liberation Sans", sans-serif' textLength="13.4" lengthAdjust="spacingAndGlyphs" >Sir3</text>
<g clip-path="url(#cclip0)">
<rect x="669.80" y="59.04" width="4.44" height="2.96" fill="rgba(0,0,255,0.5)" stroke="rgba(0,0,230,0.45)" stroke-width="0.6"/>
<rect x="674.24" y="59.04" width="4.44" height="2.96" fill="rgba(0,0,255,0.5)" stroke="rgba(0,0,230,0.45)" stroke-width="0.6"/>
<rect x="678.68" y="59.04" width="4.44" height="2.96" fill="rgba(0,0,255,0.5)" stroke="rgba(0,0,230,0.45)" stroke-width="0.6"/>
<rect x="683.12" y="59.04" width="4.44" height="2.96" fill="rgba(0,0,255,0.5)" stroke="rgba(0,0,230,0.45)" stroke-width="0.6"/>
<rect x="687.56" y="59.04" width="4.44" height="2.96" fill="rgba(0,0,255,0.5)" stroke="rgba(0,0,230,0.45)" stroke-width="0.6"/>
<rect x="692.00" y="59.04" width="4.44" height="2.96" fill="rgba(0,0,255,0.5)" stroke="rgba(0,0,230,0.45)" stroke-width="0.6"/>
<rect x="696.44" y="59.04" width="4.44" height="2.96" fill="rgba(0,0,255,0.5)" stroke="rgba(0,0,230,0.45)" stroke-width="0.6"/>
<rect x="700.88" y="58.74" width="4.44" height="3.26" fill="rgba(0,0,255,0.5)" stroke="rgba(0,0,230,0.45)" stroke-width="0.6"/>
<rect x="705.32" y="58.45" width="4.44" height="3.55" fill="rgba(0,0,255,0.5)" stroke="rgba(0,0,230,0.45)" stroke-width="0.6"/>
<rect x="709.76" y="58.45" width="4.44" height="3.55" fill="rgba(0,0,255,0.5)" stroke="rgba(0,0,230,0.45)" stroke-width="0.6"/>
<rect x="669.80" y="42.46" width="4.44" height="19.54" fill="rgba(255,0,0,0.5)" stroke="rgba(230,0,0,0.45)" stroke-width="0.6"/>
<rect x="674.24" y="46.02" width="4.44" height="15.98" fill="rgba(255,0,0,0.5)" stroke="rgba(230,0,0,0.45)" stroke-width="0.6"/>
<rect x="678.68" y="46.02" width="4.44" height="15.98" fill="rgba(255,0,0,0.5)" stroke="rgba(230,0,0,0.45)" stroke-width="0.6"/>
<rect x="683.12" y="46.02" width="4.44" height="15.98" fill="rgba(255,0,0,0.5)" stroke="rgba(230,0,0,0.45)" stroke-width="0.6"/>
<rect x="687.56" y="46.02" width="4.44" height="15.98" fill="rgba(255,0,0,0.5)" stroke="rgba(230,0,0,0.45)" stroke-width="0.6"/>
<rect x="692.00" y="46.02" width="4.44" height="15.98" fill="rgba(255,0,0,0.5)" stroke="rgba(230,0,0,0.45)" stroke-width="0.6"/>
<rect x="696.44" y="46.02" width="4.44" height="15.98" fill="rgba(255,0,0,0.5)" stroke="rgba(230,0,0,0.45)" stroke-width="0.6"/>
<rect x="700.88" y="46.02" width="4.44" height="15.98" fill="rgba(255,0,0,0.5)" stroke="rgba(230,0,0,0.45)" stroke-width="0.6"/>
<rect x="705.32" y="45.42" width="4.44" height="16.58" fill="rgba(255,0,0,0.5)" stroke="rgba(230,0,0,0.45)" stroke-width="0.6"/>
<rect x="709.76" y="41.87" width="4.44" height="20.13" fill="rgba(255,0,0,0.5)" stroke="rgba(230,0,0,0.45)" stroke-width="0.6"/>
<path transform="translate(0,0.7)" d="M646.30,58.40 C647.25,58.33 650.05,58.23 652.00,58.00 C653.95,57.77 656.33,57.37 658.00,57.00 C659.67,56.63 660.83,56.32 662.00,55.80 C663.17,55.28 664.07,55.05 665.00,53.90 C665.93,52.75 666.87,50.57 667.60,48.90 C668.33,47.23 668.78,45.27 669.40,43.90 C670.02,42.53 670.77,41.30 671.30,40.70 C671.83,40.10 672.07,39.98 672.60,40.30 C673.13,40.62 673.67,41.58 674.50,42.60 C675.33,43.62 676.55,45.35 677.60,46.40 C678.65,47.45 679.75,48.32 680.80,48.90 C681.85,49.48 682.85,49.95 683.90,49.90 C684.95,49.85 685.83,49.30 687.10,48.60 C688.37,47.90 689.93,46.60 691.50,45.70 C693.07,44.80 694.82,43.77 696.50,43.20 C698.18,42.63 699.92,42.33 701.60,42.30 C703.28,42.27 705.25,43.05 706.60,43.00 C707.95,42.95 708.87,42.38 709.70,42.00 C710.53,41.62 710.97,40.77 711.60,40.70 C712.23,40.63 712.87,40.65 713.50,41.60 C714.13,42.55 714.77,44.67 715.40,46.40 C716.03,48.13 716.57,50.63 717.30,52.00 C718.03,53.37 718.97,54.17 719.80,54.60 C720.63,55.03 721.43,54.92 722.30,54.60 C723.17,54.28 724.30,53.33 725.00,52.70 C725.70,52.07 725.92,51.00 726.50,50.80 C727.08,50.60 727.75,50.88 728.50,51.50 C729.25,52.12 730.08,53.50 731.00,54.50 C731.92,55.50 732.92,56.72 734.00,57.50 C735.08,58.28 736.92,58.92 737.50,59.20" fill="none" stroke="#ff1a1a" stroke-width="1.9"/>
<path transform="translate(0,0.7)" d="M646.30,60.30 C648.58,60.28 656.45,60.25 660.00,60.20 C663.55,60.15 666.03,60.17 667.60,60.00 C669.17,59.83 668.57,59.33 669.40,59.20 C670.23,59.07 670.00,59.12 672.60,59.20 C675.20,59.28 680.80,59.70 685.00,59.70 C689.20,59.70 693.57,59.40 697.80,59.20 C702.03,59.00 707.67,58.62 710.40,58.50 C713.13,58.38 712.93,58.38 714.20,58.50 C715.47,58.62 716.75,58.95 718.00,59.20 C719.25,59.45 720.53,59.92 721.70,60.00 C722.87,60.08 723.95,59.93 725.00,59.70 C726.05,59.47 727.00,58.73 728.00,58.60 C729.00,58.47 729.42,58.63 731.00,58.90 C732.58,59.17 736.42,59.98 737.50,60.20" fill="none" stroke="#1010f0" stroke-width="1.9"/>
</g>
<rect x="646.3" y="2.8" width="91.20000000000005" height="59.2" fill="none" stroke="#222" stroke-width="0.9"/>
<clipPath id="cclip1"><rect x="646.3" y="90.0" width="91.20000000000005" height="58.8"/></clipPath>
<line x1="669.7" y1="90.0" x2="669.7" y2="148.8" stroke="#bdbdbd" stroke-width="1"/>
<line x1="714.8" y1="90.0" x2="714.8" y2="148.8" stroke="#bdbdbd" stroke-width="1"/>
<line x1="646.3" y1="148.80" x2="650.8" y2="148.80" stroke="#222" stroke-width="0.8"/>
<line x1="733.0" y1="148.80" x2="737.5" y2="148.80" stroke="#222" stroke-width="0.8"/>
<text x="642.4" y="151.10000000000002" font-size="6.6" fill="#4a4a55" text-anchor="end" font-family='"Liberation Sans", sans-serif' >0</text>
<line x1="646.3" y1="137.04" x2="650.8" y2="137.04" stroke="#222" stroke-width="0.8"/>
<line x1="733.0" y1="137.04" x2="737.5" y2="137.04" stroke="#222" stroke-width="0.8"/>
<text x="642.4" y="139.34000000000003" font-size="6.6" fill="#4a4a55" text-anchor="end" font-family='"Liberation Sans", sans-serif' >0.2</text>
<line x1="646.3" y1="125.28" x2="650.8" y2="125.28" stroke="#222" stroke-width="0.8"/>
<line x1="733.0" y1="125.28" x2="737.5" y2="125.28" stroke="#222" stroke-width="0.8"/>
<text x="642.4" y="127.58000000000001" font-size="6.6" fill="#4a4a55" text-anchor="end" font-family='"Liberation Sans", sans-serif' >0.4</text>
<line x1="646.3" y1="113.52" x2="650.8" y2="113.52" stroke="#222" stroke-width="0.8"/>
<line x1="733.0" y1="113.52" x2="737.5" y2="113.52" stroke="#222" stroke-width="0.8"/>
<text x="642.4" y="115.82000000000001" font-size="6.6" fill="#4a4a55" text-anchor="end" font-family='"Liberation Sans", sans-serif' >0.6</text>
<line x1="646.3" y1="101.76" x2="650.8" y2="101.76" stroke="#222" stroke-width="0.8"/>
<line x1="733.0" y1="101.76" x2="737.5" y2="101.76" stroke="#222" stroke-width="0.8"/>
<text x="642.4" y="104.06000000000002" font-size="6.6" fill="#4a4a55" text-anchor="end" font-family='"Liberation Sans", sans-serif' >0.8</text>
<line x1="646.3" y1="90.00" x2="650.8" y2="90.00" stroke="#222" stroke-width="0.8"/>
<line x1="733.0" y1="90.00" x2="737.5" y2="90.00" stroke="#222" stroke-width="0.8"/>
<text x="642.4" y="92.30000000000001" font-size="6.6" fill="#4a4a55" text-anchor="end" font-family='"Liberation Sans", sans-serif' >1</text>
<text x="669.3000000000001" y="160.4" font-size="6.5" fill="#4a4a55" text-anchor="middle" font-family='"Liberation Sans", sans-serif' >E</text>
<text x="714.9" y="160.4" font-size="6.5" fill="#4a4a55" text-anchor="middle" font-family='"Liberation Sans", sans-serif' >I</text>
<text x="649.9" y="99.4" font-size="8.7" fill="#111" text-anchor="start" font-weight="bold" font-family='"Liberation Sans", sans-serif' textLength="32" lengthAdjust="spacingAndGlyphs" >H4K16ac</text>
<g clip-path="url(#cclip1)">
<rect x="673.60" y="94.12" width="4.65" height="54.68" fill="rgba(0,0,255,0.5)" stroke="rgba(0,0,230,0.45)" stroke-width="0.6"/>
<rect x="678.25" y="94.12" width="4.65" height="54.68" fill="rgba(0,0,255,0.5)" stroke="rgba(0,0,230,0.45)" stroke-width="0.6"/>
<rect x="682.90" y="94.12" width="4.65" height="54.68" fill="rgba(0,0,255,0.5)" stroke="rgba(0,0,230,0.45)" stroke-width="0.6"/>
<rect x="687.55" y="94.12" width="4.65" height="54.68" fill="rgba(0,0,255,0.5)" stroke="rgba(0,0,230,0.45)" stroke-width="0.6"/>
<rect x="692.20" y="94.12" width="4.65" height="54.68" fill="rgba(0,0,255,0.5)" stroke="rgba(0,0,230,0.45)" stroke-width="0.6"/>
<rect x="696.85" y="94.12" width="4.65" height="54.68" fill="rgba(0,0,255,0.5)" stroke="rgba(0,0,230,0.45)" stroke-width="0.6"/>
<rect x="701.50" y="94.12" width="4.65" height="54.68" fill="rgba(0,0,255,0.5)" stroke="rgba(0,0,230,0.45)" stroke-width="0.6"/>
<rect x="706.15" y="94.12" width="4.65" height="54.68" fill="rgba(0,0,255,0.5)" stroke="rgba(0,0,230,0.45)" stroke-width="0.6"/>
<rect x="673.60" y="141.16" width="4.65" height="7.64" fill="rgba(255,0,0,0.5)" stroke="rgba(230,0,0,0.45)" stroke-width="0.6"/>
<rect x="678.25" y="141.16" width="4.65" height="7.64" fill="rgba(255,0,0,0.5)" stroke="rgba(230,0,0,0.45)" stroke-width="0.6"/>
<rect x="682.90" y="141.16" width="4.65" height="7.64" fill="rgba(255,0,0,0.5)" stroke="rgba(230,0,0,0.45)" stroke-width="0.6"/>
<rect x="687.55" y="141.16" width="4.65" height="7.64" fill="rgba(255,0,0,0.5)" stroke="rgba(230,0,0,0.45)" stroke-width="0.6"/>
<rect x="692.20" y="141.16" width="4.65" height="7.64" fill="rgba(255,0,0,0.5)" stroke="rgba(230,0,0,0.45)" stroke-width="0.6"/>
<rect x="696.85" y="141.16" width="4.65" height="7.64" fill="rgba(255,0,0,0.5)" stroke="rgba(230,0,0,0.45)" stroke-width="0.6"/>
<rect x="701.50" y="141.16" width="4.65" height="7.64" fill="rgba(255,0,0,0.5)" stroke="rgba(230,0,0,0.45)" stroke-width="0.6"/>
<rect x="706.15" y="141.16" width="4.65" height="7.64" fill="rgba(255,0,0,0.5)" stroke="rgba(230,0,0,0.45)" stroke-width="0.6"/>
<path transform="translate(0,0)" d="M646.30,137.90 C647.08,137.85 649.38,137.33 651.00,137.60 C652.62,137.87 654.17,138.60 656.00,139.50 C657.83,140.40 660.00,141.92 662.00,143.00 C664.00,144.08 666.33,145.55 668.00,146.00 C669.67,146.45 670.33,145.90 672.00,145.70 C673.67,145.50 676.00,145.02 678.00,144.80 C680.00,144.58 682.00,144.57 684.00,144.40 C686.00,144.23 688.17,144.12 690.00,143.80 C691.83,143.48 693.33,143.15 695.00,142.50 C696.67,141.85 698.50,140.15 700.00,139.90 C701.50,139.65 702.67,140.40 704.00,141.00 C705.33,141.60 706.67,142.83 708.00,143.50 C709.33,144.17 710.33,144.67 712.00,145.00 C713.67,145.33 716.33,145.33 718.00,145.50 C719.67,145.67 720.83,145.80 722.00,146.00 C723.17,146.20 724.00,147.12 725.00,146.70 C726.00,146.28 727.00,145.78 728.00,143.50 C729.00,141.22 730.17,136.03 731.00,133.00 C731.83,129.97 731.92,126.55 733.00,125.30 C734.08,124.05 736.75,125.47 737.50,125.50" fill="none" stroke="#ff1a1a" stroke-width="1.9"/>
<path transform="translate(0,0)" d="M646.30,116.50 C646.92,116.55 648.88,116.88 650.00,116.80 C651.12,116.72 651.83,116.60 653.00,116.00 C654.17,115.40 655.67,113.03 657.00,113.20 C658.33,113.37 659.83,114.87 661.00,117.00 C662.17,119.13 662.75,122.52 664.00,126.00 C665.25,129.48 667.33,136.73 668.50,137.90 C669.67,139.07 670.08,135.98 671.00,133.00 C671.92,130.02 672.92,123.17 674.00,120.00 C675.08,116.83 676.33,114.33 677.50,114.00 C678.67,113.67 679.92,116.62 681.00,118.00 C682.08,119.38 682.83,121.50 684.00,122.30 C685.17,123.10 686.83,122.18 688.00,122.80 C689.17,123.42 690.17,124.83 691.00,126.00 C691.83,127.17 692.33,129.97 693.00,129.80 C693.67,129.63 694.33,129.13 695.00,125.00 C695.67,120.87 696.25,110.87 697.00,105.00 C697.75,99.13 698.75,91.63 699.50,89.80 C700.25,87.97 700.75,90.63 701.50,94.00 C702.25,97.37 703.08,104.83 704.00,110.00 C704.92,115.17 706.00,121.33 707.00,125.00 C708.00,128.67 709.00,130.48 710.00,132.00 C711.00,133.52 712.00,133.27 713.00,134.10 C714.00,134.93 715.08,137.42 716.00,137.00 C716.92,136.58 717.67,132.10 718.50,131.60 C719.33,131.10 720.08,132.43 721.00,134.00 C721.92,135.57 723.17,139.30 724.00,141.00 C724.83,142.70 725.17,144.37 726.00,144.20 C726.83,144.03 728.00,142.70 729.00,140.00 C730.00,137.30 731.00,131.67 732.00,128.00 C733.00,124.33 734.08,120.22 735.00,118.00 C735.92,115.78 737.08,115.25 737.50,114.70" fill="none" stroke="#1010f0" stroke-width="1.9"/>
</g>
<rect x="646.3" y="90.0" width="91.20000000000005" height="58.8" fill="none" stroke="#222" stroke-width="0.9"/>
<clipPath id="cclip2"><rect x="646.3" y="177.4" width="91.20000000000005" height="58.8"/></clipPath>
<line x1="669.7" y1="177.4" x2="669.7" y2="236.2" stroke="#bdbdbd" stroke-width="1"/>
<line x1="714.8" y1="177.4" x2="714.8" y2="236.2" stroke="#bdbdbd" stroke-width="1"/>
<line x1="646.3" y1="236.20" x2="650.8" y2="236.20" stroke="#222" stroke-width="0.8"/>
<line x1="733.0" y1="236.20" x2="737.5" y2="236.20" stroke="#222" stroke-width="0.8"/>
<text x="642.4" y="238.5" font-size="6.6" fill="#4a4a55" text-anchor="end" font-family='"Liberation Sans", sans-serif' >0</text>
<line x1="646.3" y1="224.44" x2="650.8" y2="224.44" stroke="#222" stroke-width="0.8"/>
<line x1="733.0" y1="224.44" x2="737.5" y2="224.44" stroke="#222" stroke-width="0.8"/>
<text x="642.4" y="226.74" font-size="6.6" fill="#4a4a55" text-anchor="end" font-family='"Liberation Sans", sans-serif' >0.2</text>
<line x1="646.3" y1="212.68" x2="650.8" y2="212.68" stroke="#222" stroke-width="0.8"/>
<line x1="733.0" y1="212.68" x2="737.5" y2="212.68" stroke="#222" stroke-width="0.8"/>
<text x="642.4" y="214.98" font-size="6.6" fill="#4a4a55" text-anchor="end" font-family='"Liberation Sans", sans-serif' >0.4</text>
<line x1="646.3" y1="200.92" x2="650.8" y2="200.92" stroke="#222" stroke-width="0.8"/>
<line x1="733.0" y1="200.92" x2="737.5" y2="200.92" stroke="#222" stroke-width="0.8"/>
<text x="642.4" y="203.22" font-size="6.6" fill="#4a4a55" text-anchor="end" font-family='"Liberation Sans", sans-serif' >0.6</text>
<line x1="646.3" y1="189.16" x2="650.8" y2="189.16" stroke="#222" stroke-width="0.8"/>
<line x1="733.0" y1="189.16" x2="737.5" y2="189.16" stroke="#222" stroke-width="0.8"/>
<text x="642.4" y="191.46" font-size="6.6" fill="#4a4a55" text-anchor="end" font-family='"Liberation Sans", sans-serif' >0.8</text>
<line x1="646.3" y1="177.40" x2="650.8" y2="177.40" stroke="#222" stroke-width="0.8"/>
<line x1="733.0" y1="177.40" x2="737.5" y2="177.40" stroke="#222" stroke-width="0.8"/>
<text x="642.4" y="179.7" font-size="6.6" fill="#4a4a55" text-anchor="end" font-family='"Liberation Sans", sans-serif' >1</text>
<text x="669.3000000000001" y="247.79999999999998" font-size="6.5" fill="#4a4a55" text-anchor="middle" font-family='"Liberation Sans", sans-serif' >E</text>
<text x="714.9" y="247.79999999999998" font-size="6.5" fill="#4a4a55" text-anchor="middle" font-family='"Liberation Sans", sans-serif' >I</text>
<text x="650.6" y="187.0" font-size="8.7" fill="#111" text-anchor="start" font-weight="bold" font-family='"Liberation Sans", sans-serif' textLength="40.4" lengthAdjust="spacingAndGlyphs" >H3K79me3</text>
<g clip-path="url(#cclip2)">
<rect x="673.80" y="205.04" width="4.60" height="31.16" fill="rgba(0,0,255,0.5)" stroke="rgba(0,0,230,0.45)" stroke-width="0.6"/>
<rect x="678.40" y="205.04" width="4.60" height="31.16" fill="rgba(0,0,255,0.5)" stroke="rgba(0,0,230,0.45)" stroke-width="0.6"/>
<rect x="683.00" y="205.04" width="4.60" height="31.16" fill="rgba(0,0,255,0.5)" stroke="rgba(0,0,230,0.45)" stroke-width="0.6"/>
<rect x="687.60" y="205.04" width="4.60" height="31.16" fill="rgba(0,0,255,0.5)" stroke="rgba(0,0,230,0.45)" stroke-width="0.6"/>
<rect x="692.20" y="205.04" width="4.60" height="31.16" fill="rgba(0,0,255,0.5)" stroke="rgba(0,0,230,0.45)" stroke-width="0.6"/>
<rect x="696.80" y="205.04" width="4.60" height="31.16" fill="rgba(0,0,255,0.5)" stroke="rgba(0,0,230,0.45)" stroke-width="0.6"/>
<rect x="701.40" y="205.04" width="4.60" height="31.16" fill="rgba(0,0,255,0.5)" stroke="rgba(0,0,230,0.45)" stroke-width="0.6"/>
<rect x="706.00" y="205.04" width="4.60" height="31.16" fill="rgba(0,0,255,0.5)" stroke="rgba(0,0,230,0.45)" stroke-width="0.6"/>
<rect x="673.80" y="229.14" width="4.60" height="7.06" fill="rgba(255,0,0,0.5)" stroke="rgba(230,0,0,0.45)" stroke-width="0.6"/>
<rect x="678.40" y="229.14" width="4.60" height="7.06" fill="rgba(255,0,0,0.5)" stroke="rgba(230,0,0,0.45)" stroke-width="0.6"/>
<rect x="683.00" y="229.14" width="4.60" height="7.06" fill="rgba(255,0,0,0.5)" stroke="rgba(230,0,0,0.45)" stroke-width="0.6"/>
<rect x="687.60" y="229.14" width="4.60" height="7.06" fill="rgba(255,0,0,0.5)" stroke="rgba(230,0,0,0.45)" stroke-width="0.6"/>
<rect x="692.20" y="229.14" width="4.60" height="7.06" fill="rgba(255,0,0,0.5)" stroke="rgba(230,0,0,0.45)" stroke-width="0.6"/>
<rect x="696.80" y="229.14" width="4.60" height="7.06" fill="rgba(255,0,0,0.5)" stroke="rgba(230,0,0,0.45)" stroke-width="0.6"/>
<rect x="701.40" y="229.14" width="4.60" height="7.06" fill="rgba(255,0,0,0.5)" stroke="rgba(230,0,0,0.45)" stroke-width="0.6"/>
<rect x="706.00" y="229.14" width="4.60" height="7.06" fill="rgba(255,0,0,0.5)" stroke="rgba(230,0,0,0.45)" stroke-width="0.6"/>
<path transform="translate(0,0)" d="M646.30,234.00 C647.75,234.08 652.22,234.67 655.00,234.50 C657.78,234.33 660.50,232.75 663.00,233.00 C665.50,233.25 667.50,236.00 670.00,236.00 C672.50,236.00 675.00,234.05 678.00,233.00 C681.00,231.95 685.17,229.95 688.00,229.70 C690.83,229.45 693.00,230.95 695.00,231.50 C697.00,232.05 698.00,232.92 700.00,233.00 C702.00,233.08 704.67,231.67 707.00,232.00 C709.33,232.33 711.83,234.42 714.00,235.00 C716.17,235.58 717.67,235.58 720.00,235.50 C722.33,235.42 725.08,234.58 728.00,234.50 C730.92,234.42 735.92,234.92 737.50,235.00" fill="none" stroke="#ff1a1a" stroke-width="1.9"/>
<path transform="translate(0,0)" d="M646.30,230.70 C646.92,231.08 648.55,232.45 650.00,233.00 C651.45,233.55 653.33,234.00 655.00,234.00 C656.67,234.00 658.33,232.83 660.00,233.00 C661.67,233.17 663.50,234.50 665.00,235.00 C666.50,235.50 667.83,237.17 669.00,236.00 C670.17,234.83 670.83,232.00 672.00,228.00 C673.17,224.00 674.67,216.67 676.00,212.00 C677.33,207.33 678.67,202.58 680.00,200.00 C681.33,197.42 682.83,196.17 684.00,196.50 C685.17,196.83 685.83,198.42 687.00,202.00 C688.17,205.58 689.67,213.33 691.00,218.00 C692.33,222.67 693.83,228.33 695.00,230.00 C696.17,231.67 697.17,228.60 698.00,228.00 C698.83,227.40 699.17,226.40 700.00,226.40 C700.83,226.40 701.67,226.90 703.00,228.00 C704.33,229.10 706.17,231.75 708.00,233.00 C709.83,234.25 712.00,235.00 714.00,235.50 C716.00,236.00 716.08,235.92 720.00,236.00 C723.92,236.08 734.58,236.00 737.50,236.00" fill="none" stroke="#1010f0" stroke-width="1.9"/>
</g>
<rect x="646.3" y="177.4" width="91.20000000000005" height="58.8" fill="none" stroke="#222" stroke-width="0.9"/>
<text x="0" y="0" font-size="7.4" font-weight="bold" fill="#111" text-anchor="middle" font-family='"Liberation Sans", sans-serif' textLength="64" lengthAdjust="spacingAndGlyphs" transform="translate(624.3,123.5) rotate(-90)">Normalised reads</text>
<rect x="629.2" y="252.4" width="120" height="25" fill="#fff" stroke="#9aa2c8" stroke-width="1"/>
<text x="668" y="262.4" font-size="7.6" fill="#222" text-anchor="end" font-weight="bold" font-family='"Liberation Sans", sans-serif' textLength="27.4" lengthAdjust="spacingAndGlyphs" >Exp. sil.</text>
<text x="669.2" y="273.9" font-size="7.6" fill="#222" text-anchor="end" font-weight="bold" font-family='"Liberation Sans", sans-serif' textLength="35.2" lengthAdjust="spacingAndGlyphs" >Exp. expr.</text>
<text x="734.8" y="262.4" font-size="7.6" fill="#222" text-anchor="end" font-weight="bold" font-family='"Liberation Sans", sans-serif' textLength="35.9" lengthAdjust="spacingAndGlyphs" >Model sil.</text>
<text x="734.8" y="273.9" font-size="7.6" fill="#222" text-anchor="end" font-weight="bold" font-family='"Liberation Sans", sans-serif' textLength="45.3" lengthAdjust="spacingAndGlyphs" >Model. expr.</text>
<line x1="671.9" y1="260" x2="681.5" y2="260" stroke="#ff1a1a" stroke-width="1.1"/>
<line x1="671.9" y1="270.9" x2="681.5" y2="270.9" stroke="#1010f0" stroke-width="1.1"/>
<rect x="736.9" y="258.2" width="8.3" height="3.2" fill="rgba(255,0,0,0.5)"/>
<rect x="736.9" y="268.8" width="8.3" height="3.2" fill="rgba(0,0,255,0.5)"/></svg></body></html>
